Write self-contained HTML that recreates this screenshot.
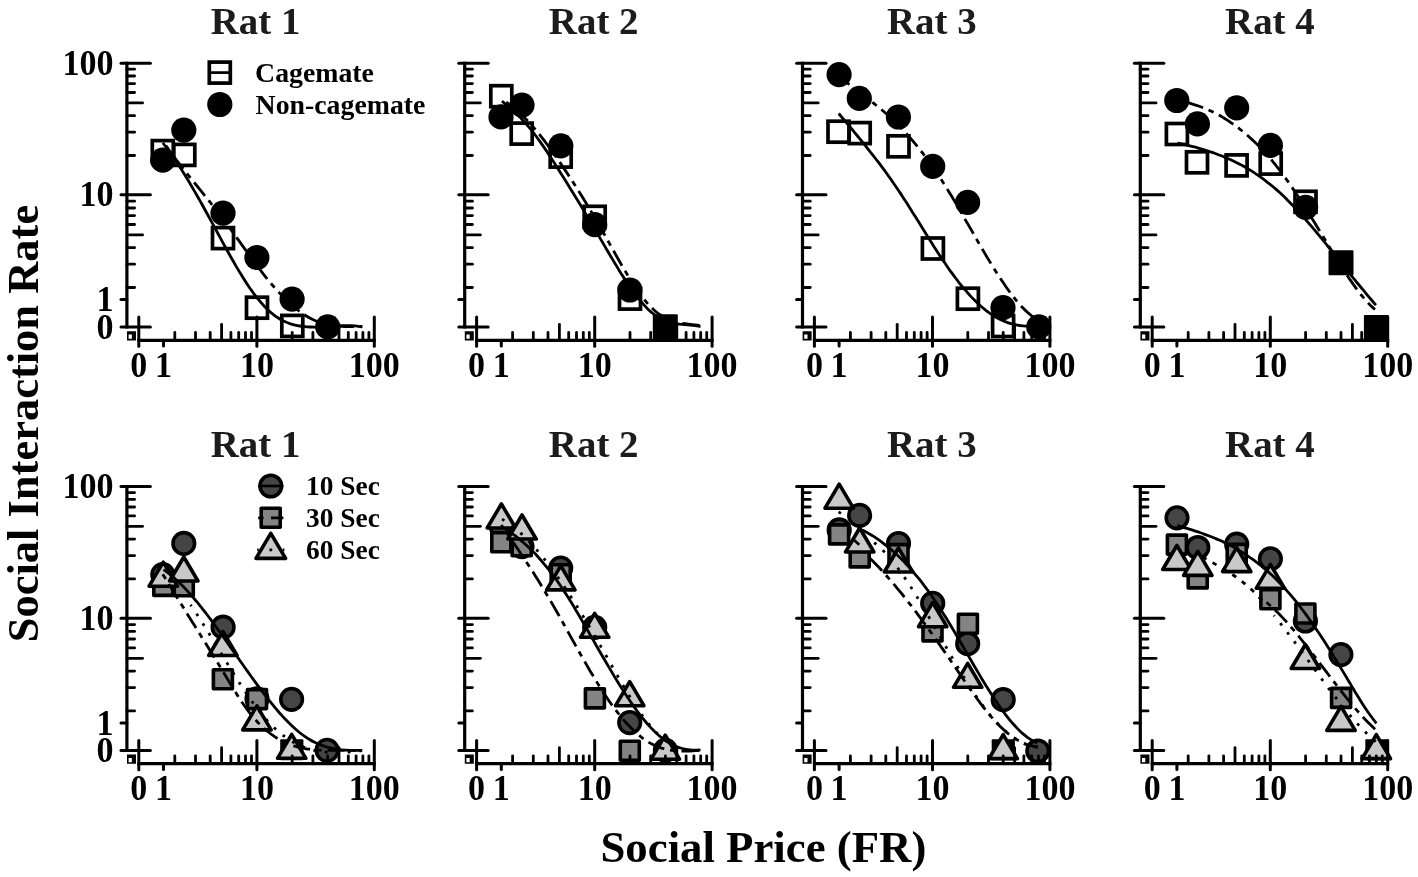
<!DOCTYPE html>
<html lang="en">
<head>
<meta charset="utf-8">
<title>Social Interaction Rate vs Social Price (FR)</title>
<style>
html,body{margin:0;padding:0;background:#fff;}
body{width:1418px;height:877px;overflow:hidden;}
svg{display:block;}
</style>
</head>
<body>
<svg width="1418" height="877" viewBox="0 0 1418 877">
<rect x="0" y="0" width="1418" height="877" fill="#fff"/>
<g>
<rect x="152.3" y="140.6" width="21.0" height="21.0" fill="none" stroke="#000" stroke-width="3.7"/>
<rect x="173.8" y="144.4" width="21.0" height="21.0" fill="none" stroke="#000" stroke-width="3.7"/>
<rect x="212.5" y="227.6" width="21.0" height="21.0" fill="none" stroke="#000" stroke-width="3.7"/>
<rect x="246.5" y="297.2" width="21.0" height="21.0" fill="none" stroke="#000" stroke-width="3.7"/>
<rect x="281.8" y="315.4" width="21.0" height="21.0" fill="none" stroke="#000" stroke-width="3.7"/>
<circle cx="162.8" cy="160.2" r="12.6" fill="#000"/>
<circle cx="183.8" cy="130.1" r="12.6" fill="#000"/>
<circle cx="223" cy="213.1" r="12.6" fill="#000"/>
<circle cx="256.9" cy="257.5" r="12.6" fill="#000"/>
<circle cx="292.1" cy="299.1" r="12.6" fill="#000"/>
<circle cx="327.7" cy="326.8" r="12.6" fill="#000"/>
<path d="M162.8,142.9 C163.7,144 166.3,147.4 168.1,149.8 C169.8,152.1 171.6,154.6 173.3,157.1 C175.1,159.7 176.8,162.3 178.6,165 C180.3,167.7 182.1,170.4 183.8,173.3 C185.6,176.1 187.3,179 189.1,181.9 C190.8,184.8 192.6,187.8 194.3,190.9 C196.1,193.9 197.8,197 199.6,200.1 C201.3,203.2 203.1,206.3 204.8,209.5 C206.6,212.7 208.3,215.9 210.1,219.1 C211.8,222.3 213.6,225.5 215.3,228.7 C217.1,232 218.8,235.2 220.6,238.4 C222.3,241.6 224.1,244.9 225.8,248 C227.6,251.2 229.3,254.4 231.1,257.5 C232.8,260.5 234.6,263.6 236.3,266.6 C238.1,269.6 239.8,272.5 241.6,275.3 C243.3,278.2 245.1,280.9 246.8,283.6 C248.6,286.2 250.3,288.8 252.1,291.2 C253.8,293.7 255.6,296 257.3,298.2 C259.1,300.4 260.8,302.4 262.6,304.3 C264.3,306.3 266.1,308 267.8,309.7 C269.6,311.4 271.3,312.9 273.1,314.3 C274.8,315.7 276.6,316.9 278.3,318 C280.1,319.2 281.8,320.2 283.6,321.1 C285.3,321.9 287.1,322.7 288.8,323.3 C290.6,324 292.3,324.5 294.1,324.9 C295.8,325.4 297.6,325.7 299.3,326 C301.1,326.3 302.8,326.5 304.6,326.7 C306.3,326.9 308.1,327 309.8,327 C311.6,327.1 313.3,327.1 315.1,327.1 C316.8,327 318.6,327 320.3,326.9 C322.1,326.8 323.8,326.7 325.6,326.6 C327.3,326.5 329.1,326.4 330.8,326.3 C332.6,326.2 334.3,326 336.1,325.9 C337.8,325.8 339.6,325.7 341.3,325.7 C343.1,325.6 344.8,325.6 346.6,325.6 C348.3,325.6 350.1,325.6 351.8,325.7 C353.6,325.8 355.3,325.9 357.1,326.1 C358.8,326.3 361.4,326.7 362.3,326.8" fill="none" stroke="#000" stroke-width="2.8"/>
<path d="M164.6,143.8 C165.5,145 168.1,148.7 169.8,151.1 C171.5,153.4 173.3,155.8 175,158.1 C176.7,160.4 178.5,162.6 180.2,164.9 C181.9,167.1 183.7,169.3 185.4,171.5 C187.1,173.7 188.9,175.9 190.6,178 C192.3,180.2 194.1,182.4 195.8,184.5 C197.6,186.7 199.3,188.8 201,190.9 C202.8,193.1 204.5,195.2 206.2,197.4 C208,199.6 209.7,201.7 211.4,203.9 C213.2,206.1 214.9,208.3 216.6,210.5 C218.4,212.8 220.1,215 221.8,217.3 C223.6,219.6 225.3,221.9 227,224.2 C228.8,226.6 230.5,229 232.2,231.3 C234,233.7 235.7,236.2 237.4,238.6 C239.2,241 240.9,243.4 242.6,245.9 C244.4,248.3 246.1,250.7 247.8,253.1 C249.6,255.5 251.3,257.9 253,260.3 C254.8,262.7 256.5,265 258.2,267.3 C260,269.6 261.7,271.9 263.4,274.1 C265.2,276.4 266.9,278.5 268.7,280.6 C270.4,282.8 272.1,284.8 273.9,286.8 C275.6,288.8 277.3,290.8 279.1,292.6 C280.8,294.5 282.5,296.3 284.3,298.1 C286,299.8 287.7,301.5 289.5,303 C291.2,304.6 292.9,306.2 294.7,307.6 C296.4,309 298.1,310.4 299.9,311.7 C301.6,312.9 303.3,314.1 305.1,315.2 C306.8,316.3 308.5,317.3 310.3,318.2 C312,319.1 313.7,319.9 315.5,320.7 C317.2,321.4 318.9,322 320.7,322.6 C322.4,323.2 324.1,323.6 325.9,324.1 C327.6,324.5 329.4,324.8 331.1,325.1 C332.8,325.4 334.6,325.7 336.3,325.8 C338,326 339.8,326.2 341.5,326.3 C343.2,326.4 345,326.5 346.7,326.5 C348.4,326.6 350.2,326.6 351.9,326.6 C353.6,326.6 355.4,326.6 357.1,326.5 C358.8,326.5 361.4,326.5 362.3,326.5" fill="none" stroke="#000" stroke-width="2.8" stroke-dasharray="17.2 5.9 5.6 5.9" stroke-dashoffset="20.6"/>
<g stroke="#000" fill="none" stroke-linecap="round">
<line x1="126.9" y1="155.5" x2="134.6" y2="155.5" stroke-width="2.8"/>
<line x1="126.9" y1="132.2" x2="134.6" y2="132.2" stroke-width="2.8"/>
<line x1="126.9" y1="115.7" x2="134.6" y2="115.7" stroke-width="2.8"/>
<line x1="126.9" y1="102.9" x2="142.6" y2="102.9" stroke-width="2.8"/>
<line x1="126.9" y1="92.5" x2="134.6" y2="92.5" stroke-width="2.8"/>
<line x1="126.9" y1="83.6" x2="134.6" y2="83.6" stroke-width="2.8"/>
<line x1="126.9" y1="76" x2="134.6" y2="76" stroke-width="2.8"/>
<line x1="126.9" y1="69.2" x2="134.6" y2="69.2" stroke-width="2.8"/>
<line x1="126.9" y1="287.5" x2="134.6" y2="287.5" stroke-width="2.8"/>
<line x1="126.9" y1="264.2" x2="134.6" y2="264.2" stroke-width="2.8"/>
<line x1="126.9" y1="247.7" x2="134.6" y2="247.7" stroke-width="2.8"/>
<line x1="126.9" y1="234.9" x2="142.6" y2="234.9" stroke-width="2.8"/>
<line x1="126.9" y1="224.5" x2="134.6" y2="224.5" stroke-width="2.8"/>
<line x1="126.9" y1="215.6" x2="134.6" y2="215.6" stroke-width="2.8"/>
<line x1="126.9" y1="208" x2="134.6" y2="208" stroke-width="2.8"/>
<line x1="126.9" y1="201.2" x2="134.6" y2="201.2" stroke-width="2.8"/>
<line x1="174.8" y1="340.3" x2="174.8" y2="332.4" stroke-width="2.8"/>
<line x1="195.5" y1="340.3" x2="195.5" y2="332.4" stroke-width="2.8"/>
<line x1="210.2" y1="340.3" x2="210.2" y2="332.4" stroke-width="2.8"/>
<line x1="221.6" y1="340.3" x2="221.6" y2="324.3" stroke-width="2.8"/>
<line x1="230.9" y1="340.3" x2="230.9" y2="332.4" stroke-width="2.8"/>
<line x1="238.7" y1="340.3" x2="238.7" y2="332.4" stroke-width="2.8"/>
<line x1="245.5" y1="340.3" x2="245.5" y2="332.4" stroke-width="2.8"/>
<line x1="251.5" y1="340.3" x2="251.5" y2="332.4" stroke-width="2.8"/>
<line x1="292.2" y1="340.3" x2="292.2" y2="332.4" stroke-width="2.8"/>
<line x1="312.9" y1="340.3" x2="312.9" y2="332.4" stroke-width="2.8"/>
<line x1="327.6" y1="340.3" x2="327.6" y2="332.4" stroke-width="2.8"/>
<line x1="339" y1="340.3" x2="339" y2="324.3" stroke-width="2.8"/>
<line x1="348.3" y1="340.3" x2="348.3" y2="332.4" stroke-width="2.8"/>
<line x1="356.1" y1="340.3" x2="356.1" y2="332.4" stroke-width="2.8"/>
<line x1="362.9" y1="340.3" x2="362.9" y2="332.4" stroke-width="2.8"/>
<line x1="368.9" y1="340.3" x2="368.9" y2="332.4" stroke-width="2.8"/>
</g>
<g stroke="#000" fill="none">
<line x1="126.9" y1="61.7" x2="126.9" y2="328.5" stroke-width="3.2"/>
<line x1="137.3" y1="340.3" x2="375.8" y2="340.3" stroke-width="3.2"/>
<line x1="121" y1="63.2" x2="150.4" y2="63.2" stroke-width="3.0" stroke-linecap="round"/>
<line x1="121" y1="194.8" x2="150.4" y2="194.8" stroke-width="3.0" stroke-linecap="round"/>
<line x1="121" y1="327" x2="150.4" y2="327" stroke-width="3.0" stroke-linecap="round"/>
<line x1="121" y1="299.5" x2="126.9" y2="299.5" stroke-width="3.0" stroke-linecap="round"/>
<line x1="138.8" y1="317" x2="138.8" y2="346.3" stroke-width="3.0" stroke-linecap="round"/>
<line x1="256.9" y1="317" x2="256.9" y2="346.3" stroke-width="3.0" stroke-linecap="round"/>
<line x1="374.3" y1="317" x2="374.3" y2="346.3" stroke-width="3.0" stroke-linecap="round"/>
<line x1="163.5" y1="340.3" x2="163.5" y2="346" stroke-width="3.0" stroke-linecap="round"/>
<path d="M127,331.2 h9 v9.2 h-9 Z M128.6,334.6 v4.2 h3.3 v-4.2 Z" fill="#000" fill-rule="evenodd" stroke="none"/>
</g>
</g>
<g>
<circle cx="162.8" cy="574.6" r="10.8" fill="#454545" stroke="#000" stroke-width="3.6"/>
<circle cx="183.8" cy="543.4" r="10.8" fill="#454545" stroke="#000" stroke-width="3.6"/>
<circle cx="223.1" cy="627.2" r="10.8" fill="#454545" stroke="#000" stroke-width="3.6"/>
<circle cx="257" cy="698.8" r="10.8" fill="#454545" stroke="#000" stroke-width="3.6"/>
<circle cx="291.6" cy="699.3" r="10.8" fill="#454545" stroke="#000" stroke-width="3.6"/>
<circle cx="327.1" cy="750.3" r="10.8" fill="#454545" stroke="#000" stroke-width="3.6"/>
<rect x="153.8" y="576.4" width="19.0" height="19.0" fill="#848484" stroke="#000" stroke-width="3.6" stroke-linejoin="round"/>
<rect x="174.3" y="576.7" width="19.0" height="19.0" fill="#848484" stroke="#000" stroke-width="3.6" stroke-linejoin="round"/>
<rect x="213.4" y="669.7" width="19.0" height="19.0" fill="#848484" stroke="#000" stroke-width="3.6" stroke-linejoin="round"/>
<rect x="247.5" y="689.6" width="19.0" height="19.0" fill="#848484" stroke="#000" stroke-width="3.6" stroke-linejoin="round"/>
<rect x="280.2" y="739.3" width="23.2" height="21.0" fill="#000" rx="1"/>
<path d="M163.3,562.2 L177.5,586.2 L149.1,586.2 Z" fill="#c9c9c9" stroke="#000" stroke-width="3.6" stroke-linejoin="round"/>
<path d="M183.8,557 L198,581 L169.6,581 Z" fill="#c9c9c9" stroke="#000" stroke-width="3.6" stroke-linejoin="round"/>
<path d="M222.9,631.5 L237.1,655.5 L208.7,655.5 Z" fill="#c9c9c9" stroke="#000" stroke-width="3.6" stroke-linejoin="round"/>
<path d="M256.9,705.9 L271.1,729.9 L242.7,729.9 Z" fill="#c9c9c9" stroke="#000" stroke-width="3.6" stroke-linejoin="round"/>
<path d="M291.7,734.3 L305.9,758.3 L277.5,758.3 Z" fill="#c9c9c9" stroke="#000" stroke-width="3.6" stroke-linejoin="round"/>
<path d="M163.5,569.6 C164.4,570.2 167,572 168.7,573.4 C170.5,574.7 172.2,576.2 174,577.7 C175.7,579.2 177.5,580.8 179.2,582.5 C180.9,584.2 182.7,585.9 184.4,587.8 C186.2,589.6 187.9,591.5 189.7,593.4 C191.4,595.4 193.1,597.4 194.9,599.5 C196.6,601.6 198.4,603.7 200.1,605.9 C201.9,608 203.6,610.3 205.4,612.5 C207.1,614.8 208.8,617.1 210.6,619.4 C212.3,621.7 214.1,624.1 215.8,626.5 C217.6,628.9 219.3,631.3 221,633.8 C222.8,636.2 224.5,638.7 226.3,641.1 C228,643.6 229.8,646.1 231.5,648.6 C233.3,651.1 235,653.6 236.7,656 C238.5,658.5 240.2,661 242,663.5 C243.7,666 245.5,668.4 247.2,670.9 C248.9,673.3 250.7,675.8 252.4,678.2 C254.2,680.6 255.9,683 257.7,685.4 C259.4,687.7 261.2,690.1 262.9,692.3 C264.6,694.6 266.4,696.9 268.1,699.1 C269.9,701.3 271.6,703.5 273.4,705.6 C275.1,707.7 276.9,709.8 278.6,711.8 C280.3,713.8 282.1,715.7 283.8,717.6 C285.6,719.5 287.3,721.3 289.1,723 C290.8,724.7 292.5,726.4 294.3,728 C296,729.6 297.8,731.1 299.5,732.5 C301.3,733.9 303,735.2 304.8,736.4 C306.5,737.7 308.2,738.8 310,739.8 C311.7,740.9 313.5,741.8 315.2,742.6 C317,743.5 318.7,744.3 320.4,744.9 C322.2,745.6 323.9,746.2 325.7,746.7 C327.4,747.3 329.2,747.7 330.9,748.1 C332.7,748.5 334.4,748.9 336.1,749.1 C337.9,749.4 339.6,749.6 341.4,749.8 C343.1,750 344.9,750.1 346.6,750.2 C348.3,750.3 350.1,750.4 351.8,750.4 C353.6,750.4 355.3,750.4 357.1,750.4 C358.8,750.4 361.4,750.3 362.3,750.3" fill="none" stroke="#000" stroke-width="2.8"/>
<path d="M162.8,574.2 C163.7,575.7 166.3,580 168,582.8 C169.8,585.7 171.5,588.5 173.3,591.4 C175,594.2 176.8,597 178.5,599.9 C180.3,602.7 182,605.5 183.8,608.3 C185.5,611.1 187.3,613.9 189,616.7 C190.8,619.5 192.5,622.3 194.3,625.1 C196,627.9 197.7,630.7 199.5,633.5 C201.2,636.3 203,639.1 204.7,641.9 C206.5,644.7 208.2,647.5 210,650.4 C211.7,653.2 213.5,656 215.2,658.8 C217,661.7 218.7,664.5 220.5,667.4 C222.2,670.3 224,673.1 225.7,676 C227.5,678.9 229.2,681.9 230.9,684.7 C232.7,687.6 234.4,690.5 236.2,693.3 C237.9,696.1 239.7,698.8 241.4,701.4 C243.2,704 244.9,706.6 246.7,708.9 C248.4,711.3 250.2,713.6 251.9,715.7 C253.7,717.8 255.4,719.8 257.2,721.7 C258.9,723.5 260.7,725.3 262.4,726.9 C264.1,728.6 265.9,730.1 267.6,731.5 C269.4,732.9 271.1,734.2 272.9,735.4 C274.6,736.6 276.4,737.8 278.1,738.8 C279.9,739.8 281.6,740.7 283.4,741.6 C285.1,742.4 286.9,743.2 288.6,743.9 C290.4,744.6 292.1,745.2 293.9,745.8 C295.6,746.3 297.3,746.8 299.1,747.3 C300.8,747.7 302.6,748 304.3,748.4 C306.1,748.7 307.8,749 309.6,749.2 C311.3,749.4 313.1,749.6 314.8,749.7 C316.6,749.9 318.3,750 320.1,750.1 C321.8,750.2 323.6,750.2 325.3,750.3 C327.1,750.3 328.8,750.3 330.5,750.3 C332.3,750.3 334,750.3 335.8,750.3 C337.5,750.3 339.3,750.3 341,750.3 C342.8,750.2 344.5,750.2 346.3,750.2 C348,750.2 349.8,750.3 351.5,750.3 C353.3,750.3 355,750.4 356.8,750.5 C358.5,750.6 361.1,750.7 362,750.8" fill="none" stroke="#000" stroke-width="2.8" stroke-dasharray="17.2 5.9 5.6 5.9" stroke-dashoffset="23.1"/>
<path d="M190.6,604.9 C191.5,606.2 194.1,610 195.8,612.6 C197.5,615.3 199.3,617.9 201,620.7 C202.7,623.4 204.5,626.2 206.2,628.9 C207.9,631.7 209.6,634.5 211.4,637.4 C213.1,640.2 214.8,643 216.6,645.9 C218.3,648.7 220,651.6 221.8,654.4 C223.5,657.3 225.2,660.1 227,662.9 C228.7,665.7 230.4,668.6 232.2,671.3 C233.9,674.1 235.6,676.9 237.3,679.6 C239.1,682.3 240.8,685 242.5,687.6 C244.3,690.2 246,692.8 247.7,695.3 C249.5,697.8 251.2,700.3 252.9,702.7 C254.7,705.1 256.4,707.4 258.1,709.6 C259.9,711.9 261.6,714 263.3,716.1 C265,718.2 266.8,720.1 268.5,722 C270.2,723.9 272,725.7 273.7,727.3 C275.4,729 277.2,730.5 278.9,732 C280.6,733.5 282.4,734.9 284.1,736.1 C285.8,737.4 287.6,738.6 289.3,739.7 C291,740.8 292.7,741.8 294.5,742.8 C296.2,743.7 297.9,744.6 299.7,745.4 C301.4,746.2 303.1,746.9 304.9,747.5 C306.6,748.1 308.3,748.7 310.1,749.2 C311.8,749.7 313.5,750.2 315.3,750.6 C317,750.9 318.7,751.3 320.4,751.5 C322.2,751.8 323.9,752 325.6,752.2 C327.4,752.4 329.1,752.5 330.8,752.6 C332.6,752.7 334.3,752.7 336,752.7 C337.8,752.7 339.5,752.7 341.2,752.6 C343,752.5 344.7,752.4 346.4,752.3 C348.1,752.2 349.9,752 351.6,751.8 C353.3,751.7 355.1,751.5 356.8,751.3 C358.5,751 361.1,750.7 362,750.6" fill="none" stroke="#000" stroke-width="2.8" stroke-dasharray="2.8 8.7" stroke-dashoffset="0.9"/>
<g stroke="#000" fill="none" stroke-linecap="round">
<line x1="126.9" y1="578.9" x2="134.6" y2="578.9" stroke-width="2.8"/>
<line x1="126.9" y1="555.6" x2="134.6" y2="555.6" stroke-width="2.8"/>
<line x1="126.9" y1="539.1" x2="134.6" y2="539.1" stroke-width="2.8"/>
<line x1="126.9" y1="526.3" x2="142.6" y2="526.3" stroke-width="2.8"/>
<line x1="126.9" y1="515.9" x2="134.6" y2="515.9" stroke-width="2.8"/>
<line x1="126.9" y1="507" x2="134.6" y2="507" stroke-width="2.8"/>
<line x1="126.9" y1="499.4" x2="134.6" y2="499.4" stroke-width="2.8"/>
<line x1="126.9" y1="492.6" x2="134.6" y2="492.6" stroke-width="2.8"/>
<line x1="126.9" y1="710.9" x2="134.6" y2="710.9" stroke-width="2.8"/>
<line x1="126.9" y1="687.6" x2="134.6" y2="687.6" stroke-width="2.8"/>
<line x1="126.9" y1="671.1" x2="134.6" y2="671.1" stroke-width="2.8"/>
<line x1="126.9" y1="658.3" x2="142.6" y2="658.3" stroke-width="2.8"/>
<line x1="126.9" y1="647.9" x2="134.6" y2="647.9" stroke-width="2.8"/>
<line x1="126.9" y1="639" x2="134.6" y2="639" stroke-width="2.8"/>
<line x1="126.9" y1="631.4" x2="134.6" y2="631.4" stroke-width="2.8"/>
<line x1="126.9" y1="624.6" x2="134.6" y2="624.6" stroke-width="2.8"/>
<line x1="174.8" y1="763.7" x2="174.8" y2="755.8" stroke-width="2.8"/>
<line x1="195.5" y1="763.7" x2="195.5" y2="755.8" stroke-width="2.8"/>
<line x1="210.2" y1="763.7" x2="210.2" y2="755.8" stroke-width="2.8"/>
<line x1="221.6" y1="763.7" x2="221.6" y2="747.7" stroke-width="2.8"/>
<line x1="230.9" y1="763.7" x2="230.9" y2="755.8" stroke-width="2.8"/>
<line x1="238.7" y1="763.7" x2="238.7" y2="755.8" stroke-width="2.8"/>
<line x1="245.5" y1="763.7" x2="245.5" y2="755.8" stroke-width="2.8"/>
<line x1="251.5" y1="763.7" x2="251.5" y2="755.8" stroke-width="2.8"/>
<line x1="292.2" y1="763.7" x2="292.2" y2="755.8" stroke-width="2.8"/>
<line x1="312.9" y1="763.7" x2="312.9" y2="755.8" stroke-width="2.8"/>
<line x1="327.6" y1="763.7" x2="327.6" y2="755.8" stroke-width="2.8"/>
<line x1="339" y1="763.7" x2="339" y2="747.7" stroke-width="2.8"/>
<line x1="348.3" y1="763.7" x2="348.3" y2="755.8" stroke-width="2.8"/>
<line x1="356.1" y1="763.7" x2="356.1" y2="755.8" stroke-width="2.8"/>
<line x1="362.9" y1="763.7" x2="362.9" y2="755.8" stroke-width="2.8"/>
<line x1="368.9" y1="763.7" x2="368.9" y2="755.8" stroke-width="2.8"/>
</g>
<g stroke="#000" fill="none">
<line x1="126.9" y1="485.1" x2="126.9" y2="751.9" stroke-width="3.2"/>
<line x1="137.3" y1="763.7" x2="375.8" y2="763.7" stroke-width="3.2"/>
<line x1="121" y1="486.6" x2="150.4" y2="486.6" stroke-width="3.0" stroke-linecap="round"/>
<line x1="121" y1="618.2" x2="150.4" y2="618.2" stroke-width="3.0" stroke-linecap="round"/>
<line x1="121" y1="750.4" x2="150.4" y2="750.4" stroke-width="3.0" stroke-linecap="round"/>
<line x1="121" y1="722.9" x2="126.9" y2="722.9" stroke-width="3.0" stroke-linecap="round"/>
<line x1="138.8" y1="740.4" x2="138.8" y2="769.7" stroke-width="3.0" stroke-linecap="round"/>
<line x1="256.9" y1="740.4" x2="256.9" y2="769.7" stroke-width="3.0" stroke-linecap="round"/>
<line x1="374.3" y1="740.4" x2="374.3" y2="769.7" stroke-width="3.0" stroke-linecap="round"/>
<line x1="163.5" y1="763.7" x2="163.5" y2="769.4" stroke-width="3.0" stroke-linecap="round"/>
<path d="M127,754.6 h9 v9.2 h-9 Z M128.6,758 v4.2 h3.3 v-4.2 Z" fill="#000" fill-rule="evenodd" stroke="none"/>
</g>
</g>
<g>
<rect x="490.8" y="85.7" width="21.0" height="21.0" fill="none" stroke="#000" stroke-width="3.7"/>
<rect x="511.2" y="123.1" width="21.0" height="21.0" fill="none" stroke="#000" stroke-width="3.7"/>
<rect x="550.2" y="146.1" width="21.0" height="21.0" fill="none" stroke="#000" stroke-width="3.7"/>
<rect x="584.2" y="206.3" width="21.0" height="21.0" fill="none" stroke="#000" stroke-width="3.7"/>
<rect x="619.5" y="288.1" width="21.0" height="21.0" fill="none" stroke="#000" stroke-width="3.7"/>
<circle cx="501" cy="116.9" r="12.6" fill="#000"/>
<circle cx="522" cy="105.1" r="12.6" fill="#000"/>
<circle cx="560.8" cy="145.8" r="12.6" fill="#000"/>
<circle cx="594.7" cy="224.7" r="12.6" fill="#000"/>
<circle cx="629.9" cy="290" r="12.6" fill="#000"/>
<rect x="652.8" y="314.3" width="25.0" height="25.0" fill="#000" rx="1"/>
<path d="M501.9,101.1 C502.8,101.8 505.4,103.9 507.1,105.3 C508.9,106.8 510.6,108.3 512.4,109.9 C514.1,111.5 515.8,113.1 517.6,114.8 C519.3,116.5 521.1,118.3 522.8,120.2 C524.5,122.1 526.3,124 528,126.1 C529.8,128.1 531.5,130.2 533.3,132.5 C535,134.7 536.7,137 538.5,139.5 C540.2,141.9 542,144.4 543.7,146.9 C545.5,149.5 547.2,152.1 548.9,154.8 C550.7,157.4 552.4,160.1 554.2,162.8 C555.9,165.6 557.6,168.3 559.4,171 C561.1,173.8 562.9,176.6 564.6,179.3 C566.4,182.1 568.1,184.9 569.8,187.7 C571.6,190.5 573.3,193.4 575.1,196.2 C576.8,199.1 578.6,201.9 580.3,204.8 C582,207.7 583.8,210.6 585.5,213.5 C587.3,216.4 589,219.3 590.7,222.3 C592.5,225.2 594.2,228.2 596,231.1 C597.7,234.1 599.5,237.1 601.2,240.1 C602.9,243 604.7,246 606.4,249 C608.2,252 609.9,255 611.7,257.9 C613.4,260.9 615.1,263.8 616.9,266.6 C618.6,269.5 620.4,272.3 622.1,275.1 C623.8,277.8 625.6,280.5 627.3,283.1 C629.1,285.7 630.8,288.3 632.6,290.7 C634.3,293.1 636,295.5 637.8,297.7 C639.5,299.9 641.3,302 643,303.9 C644.8,305.9 646.5,307.7 648.2,309.4 C650,311.1 651.7,312.6 653.5,313.9 C655.2,315.3 656.9,316.5 658.7,317.5 C660.4,318.5 662.2,319.4 663.9,320.1 C665.7,320.9 667.4,321.4 669.1,322 C670.9,322.5 672.6,322.9 674.4,323.2 C676.1,323.6 677.9,323.8 679.6,324.1 C681.3,324.3 683.1,324.5 684.8,324.7 C686.6,324.8 688.3,325 690,325.1 C691.8,325.3 693.5,325.5 695.3,325.7 C697,325.9 699.6,326.4 700.5,326.5" fill="none" stroke="#000" stroke-width="2.8"/>
<path d="M503,100 C503.9,100.6 506.5,102.3 508.2,103.6 C509.9,104.9 511.7,106.2 513.4,107.6 C515.1,109 516.9,110.5 518.6,112.1 C520.3,113.6 522.1,115.3 523.8,117 C525.5,118.7 527.3,120.5 529,122.3 C530.7,124.2 532.5,126.1 534.2,128.1 C535.9,130.1 537.6,132.2 539.4,134.4 C541.1,136.5 542.8,138.8 544.6,141 C546.3,143.3 548,145.7 549.8,148.1 C551.5,150.5 553.2,152.9 555,155.4 C556.7,157.9 558.4,160.4 560.2,162.9 C561.9,165.4 563.6,168 565.4,170.6 C567.1,173.2 568.8,175.8 570.6,178.4 C572.3,181.1 574,183.8 575.8,186.5 C577.5,189.2 579.2,192 581,194.7 C582.7,197.5 584.4,200.3 586.2,203.2 C587.9,206.1 589.6,208.9 591.4,211.9 C593.1,214.8 594.8,217.8 596.6,220.8 C598.3,223.8 600,226.8 601.8,229.8 C603.5,232.9 605.2,236 606.9,239 C608.7,242.1 610.4,245.2 612.1,248.3 C613.9,251.4 615.6,254.5 617.3,257.5 C619.1,260.6 620.8,263.6 622.5,266.6 C624.3,269.5 626,272.5 627.7,275.3 C629.5,278.1 631.2,280.9 632.9,283.6 C634.7,286.3 636.4,288.9 638.1,291.3 C639.9,293.8 641.6,296.1 643.3,298.3 C645.1,300.5 646.8,302.6 648.5,304.5 C650.3,306.4 652,308.1 653.7,309.7 C655.5,311.3 657.2,312.7 658.9,314 C660.7,315.2 662.4,316.3 664.1,317.2 C665.9,318.2 667.6,319 669.3,319.7 C671,320.4 672.8,321 674.5,321.5 C676.2,322 678,322.4 679.7,322.8 C681.4,323.2 683.2,323.4 684.9,323.7 C686.6,324 688.4,324.2 690.1,324.4 C691.8,324.6 693.6,324.7 695.3,324.9 C697,325.1 699.6,325.4 700.5,325.5" fill="none" stroke="#000" stroke-width="2.8" stroke-dasharray="17.2 5.9 5.6 5.9" stroke-dashoffset="19.2"/>
<g stroke="#000" fill="none" stroke-linecap="round">
<line x1="464.7" y1="155.5" x2="472.4" y2="155.5" stroke-width="2.8"/>
<line x1="464.7" y1="132.2" x2="472.4" y2="132.2" stroke-width="2.8"/>
<line x1="464.7" y1="115.7" x2="472.4" y2="115.7" stroke-width="2.8"/>
<line x1="464.7" y1="102.9" x2="480.4" y2="102.9" stroke-width="2.8"/>
<line x1="464.7" y1="92.5" x2="472.4" y2="92.5" stroke-width="2.8"/>
<line x1="464.7" y1="83.6" x2="472.4" y2="83.6" stroke-width="2.8"/>
<line x1="464.7" y1="76" x2="472.4" y2="76" stroke-width="2.8"/>
<line x1="464.7" y1="69.2" x2="472.4" y2="69.2" stroke-width="2.8"/>
<line x1="464.7" y1="287.5" x2="472.4" y2="287.5" stroke-width="2.8"/>
<line x1="464.7" y1="264.2" x2="472.4" y2="264.2" stroke-width="2.8"/>
<line x1="464.7" y1="247.7" x2="472.4" y2="247.7" stroke-width="2.8"/>
<line x1="464.7" y1="234.9" x2="480.4" y2="234.9" stroke-width="2.8"/>
<line x1="464.7" y1="224.5" x2="472.4" y2="224.5" stroke-width="2.8"/>
<line x1="464.7" y1="215.6" x2="472.4" y2="215.6" stroke-width="2.8"/>
<line x1="464.7" y1="208" x2="472.4" y2="208" stroke-width="2.8"/>
<line x1="464.7" y1="201.2" x2="472.4" y2="201.2" stroke-width="2.8"/>
<line x1="512.6" y1="340.3" x2="512.6" y2="332.4" stroke-width="2.8"/>
<line x1="533.3" y1="340.3" x2="533.3" y2="332.4" stroke-width="2.8"/>
<line x1="548" y1="340.3" x2="548" y2="332.4" stroke-width="2.8"/>
<line x1="559.4" y1="340.3" x2="559.4" y2="324.3" stroke-width="2.8"/>
<line x1="568.7" y1="340.3" x2="568.7" y2="332.4" stroke-width="2.8"/>
<line x1="576.5" y1="340.3" x2="576.5" y2="332.4" stroke-width="2.8"/>
<line x1="583.3" y1="340.3" x2="583.3" y2="332.4" stroke-width="2.8"/>
<line x1="589.3" y1="340.3" x2="589.3" y2="332.4" stroke-width="2.8"/>
<line x1="630" y1="340.3" x2="630" y2="332.4" stroke-width="2.8"/>
<line x1="650.7" y1="340.3" x2="650.7" y2="332.4" stroke-width="2.8"/>
<line x1="665.4" y1="340.3" x2="665.4" y2="332.4" stroke-width="2.8"/>
<line x1="676.8" y1="340.3" x2="676.8" y2="324.3" stroke-width="2.8"/>
<line x1="686.1" y1="340.3" x2="686.1" y2="332.4" stroke-width="2.8"/>
<line x1="693.9" y1="340.3" x2="693.9" y2="332.4" stroke-width="2.8"/>
<line x1="700.7" y1="340.3" x2="700.7" y2="332.4" stroke-width="2.8"/>
<line x1="706.7" y1="340.3" x2="706.7" y2="332.4" stroke-width="2.8"/>
</g>
<g stroke="#000" fill="none">
<line x1="464.7" y1="61.7" x2="464.7" y2="328.5" stroke-width="3.2"/>
<line x1="475.1" y1="340.3" x2="713.6" y2="340.3" stroke-width="3.2"/>
<line x1="458.8" y1="63.2" x2="488.2" y2="63.2" stroke-width="3.0" stroke-linecap="round"/>
<line x1="458.8" y1="194.8" x2="488.2" y2="194.8" stroke-width="3.0" stroke-linecap="round"/>
<line x1="458.8" y1="327" x2="488.2" y2="327" stroke-width="3.0" stroke-linecap="round"/>
<line x1="458.8" y1="299.5" x2="464.7" y2="299.5" stroke-width="3.0" stroke-linecap="round"/>
<line x1="476.6" y1="317" x2="476.6" y2="346.3" stroke-width="3.0" stroke-linecap="round"/>
<line x1="594.7" y1="317" x2="594.7" y2="346.3" stroke-width="3.0" stroke-linecap="round"/>
<line x1="712.1" y1="317" x2="712.1" y2="346.3" stroke-width="3.0" stroke-linecap="round"/>
<line x1="501.3" y1="340.3" x2="501.3" y2="346" stroke-width="3.0" stroke-linecap="round"/>
<path d="M464.8,331.2 h9 v9.2 h-9 Z M466.4,334.6 v4.2 h3.3 v-4.2 Z" fill="#000" fill-rule="evenodd" stroke="none"/>
</g>
</g>
<g>
<circle cx="501.3" cy="526.5" r="10.8" fill="#454545" stroke="#000" stroke-width="3.6"/>
<circle cx="522" cy="546.6" r="10.8" fill="#454545" stroke="#000" stroke-width="3.6"/>
<circle cx="560.7" cy="568.1" r="10.8" fill="#454545" stroke="#000" stroke-width="3.6"/>
<circle cx="594.7" cy="627.4" r="10.8" fill="#454545" stroke="#000" stroke-width="3.6"/>
<circle cx="629.7" cy="722.6" r="10.8" fill="#454545" stroke="#000" stroke-width="3.6"/>
<circle cx="665.4" cy="750.3" r="10.8" fill="#454545" stroke="#000" stroke-width="3.6"/>
<rect x="491.8" y="532.7" width="19.0" height="19.0" fill="#848484" stroke="#000" stroke-width="3.6" stroke-linejoin="round"/>
<rect x="512.2" y="536.7" width="19.0" height="19.0" fill="#848484" stroke="#000" stroke-width="3.6" stroke-linejoin="round"/>
<rect x="551.2" y="564.8" width="19.0" height="19.0" fill="#848484" stroke="#000" stroke-width="3.6" stroke-linejoin="round"/>
<rect x="585.4" y="688.9" width="19.0" height="19.0" fill="#848484" stroke="#000" stroke-width="3.6" stroke-linejoin="round"/>
<rect x="620.3" y="741.2" width="19.0" height="19.0" fill="#848484" stroke="#000" stroke-width="3.6" stroke-linejoin="round"/>
<path d="M501.4,504 L515.6,528 L487.2,528 Z" fill="#c9c9c9" stroke="#000" stroke-width="3.6" stroke-linejoin="round"/>
<path d="M522,515 L536.2,539 L507.8,539 Z" fill="#c9c9c9" stroke="#000" stroke-width="3.6" stroke-linejoin="round"/>
<path d="M560.8,565.9 L575,589.9 L546.6,589.9 Z" fill="#c9c9c9" stroke="#000" stroke-width="3.6" stroke-linejoin="round"/>
<path d="M594.7,613.3 L608.9,637.3 L580.5,637.3 Z" fill="#c9c9c9" stroke="#000" stroke-width="3.6" stroke-linejoin="round"/>
<path d="M629.7,681.7 L643.9,705.7 L615.5,705.7 Z" fill="#c9c9c9" stroke="#000" stroke-width="3.6" stroke-linejoin="round"/>
<path d="M665.3,735.2 L679.5,759.2 L651.1,759.2 Z" fill="#c9c9c9" stroke="#000" stroke-width="3.6" stroke-linejoin="round"/>
<path d="M502.8,527.4 C503.7,528 506.3,529.5 508,530.7 C509.7,531.8 511.5,533 513.2,534.3 C514.9,535.6 516.7,536.9 518.4,538.3 C520.1,539.7 521.9,541.2 523.6,542.7 C525.3,544.2 527.1,545.8 528.8,547.5 C530.5,549.1 532.3,550.8 534,552.6 C535.8,554.4 537.5,556.3 539.2,558.2 C541,560.2 542.7,562.2 544.4,564.3 C546.2,566.4 547.9,568.5 549.6,570.7 C551.4,573 553.1,575.3 554.8,577.7 C556.6,580 558.3,582.5 560,585 C561.8,587.6 563.5,590.2 565.2,592.9 C567,595.5 568.7,598.3 570.4,601.1 C572.2,603.9 573.9,606.8 575.6,609.7 C577.4,612.6 579.1,615.5 580.8,618.5 C582.6,621.5 584.3,624.5 586,627.5 C587.8,630.5 589.5,633.6 591.2,636.6 C593,639.6 594.7,642.7 596.4,645.7 C598.2,648.8 599.9,651.8 601.6,654.8 C603.4,657.8 605.1,660.8 606.9,663.8 C608.6,666.7 610.3,669.7 612.1,672.6 C613.8,675.5 615.5,678.4 617.3,681.2 C619,684 620.7,686.8 622.5,689.5 C624.2,692.2 625.9,694.9 627.7,697.5 C629.4,700.1 631.1,702.6 632.9,705.1 C634.6,707.6 636.3,710 638.1,712.3 C639.8,714.6 641.5,716.8 643.3,719 C645,721.1 646.7,723.2 648.5,725.1 C650.2,727 651.9,728.9 653.7,730.6 C655.4,732.4 657.1,734 658.9,735.5 C660.6,737 662.3,738.4 664.1,739.7 C665.8,740.9 667.5,742.1 669.3,743.1 C671,744.1 672.8,745 674.5,745.8 C676.2,746.6 678,747.3 679.7,747.8 C681.4,748.4 683.2,748.9 684.9,749.2 C686.6,749.6 688.4,749.9 690.1,750 C691.8,750.2 693.6,750.3 695.3,750.2 C697,750.2 699.6,750 700.5,749.9" fill="none" stroke="#000" stroke-width="2.8"/>
<path d="M501.3,525 C502.2,526.3 504.8,530 506.5,532.5 C508.3,535.1 510,537.6 511.8,540.1 C513.5,542.7 515.3,545.3 517,547.9 C518.8,550.4 520.5,553.1 522.3,555.7 C524,558.3 525.8,561 527.5,563.7 C529.3,566.3 531,569.1 532.8,571.8 C534.5,574.5 536.2,577.3 538,580.1 C539.7,582.9 541.5,585.8 543.2,588.7 C545,591.5 546.7,594.5 548.5,597.4 C550.2,600.4 552,603.4 553.7,606.4 C555.5,609.5 557.2,612.5 559,615.6 C560.7,618.7 562.5,621.9 564.2,625 C566,628.1 567.7,631.3 569.4,634.4 C571.2,637.6 572.9,640.7 574.7,643.8 C576.4,647 578.2,650.1 579.9,653.2 C581.7,656.3 583.4,659.4 585.2,662.4 C586.9,665.5 588.7,668.5 590.4,671.5 C592.2,674.4 593.9,677.3 595.7,680.2 C597.4,683.1 599.2,685.9 600.9,688.6 C602.6,691.4 604.4,694 606.1,696.6 C607.9,699.2 609.6,701.7 611.4,704.2 C613.1,706.6 614.9,709 616.6,711.2 C618.4,713.5 620.1,715.7 621.9,717.8 C623.6,719.9 625.4,721.9 627.1,723.8 C628.9,725.7 630.6,727.5 632.4,729.2 C634.1,730.9 635.8,732.5 637.6,734.1 C639.3,735.6 641.1,737 642.8,738.3 C644.6,739.6 646.3,740.8 648.1,741.9 C649.8,743 651.6,743.9 653.3,744.8 C655.1,745.7 656.8,746.4 658.6,747.1 C660.3,747.7 662.1,748.3 663.8,748.7 C665.6,749.2 667.3,749.6 669,749.9 C670.8,750.2 672.5,750.4 674.3,750.6 C676,750.8 677.8,750.9 679.5,751 C681.3,751.1 683,751.1 684.8,751.1 C686.5,751.1 688.3,751 690,751 C691.8,750.9 693.5,750.8 695.3,750.7 C697,750.6 699.6,750.5 700.5,750.5" fill="none" stroke="#000" stroke-width="2.8" stroke-dasharray="17.2 5.9 5.6 5.9" stroke-dashoffset="13.0"/>
<path d="M502,519.2 C502.9,519.8 505.5,521.3 507.2,522.5 C509,523.7 510.7,524.9 512.4,526.3 C514.2,527.6 515.9,529.1 517.7,530.6 C519.4,532.1 521.2,533.6 522.9,535.3 C524.6,536.9 526.4,538.7 528.1,540.5 C529.9,542.3 531.6,544.1 533.3,546.1 C535.1,548 536.8,550 538.6,552 C540.3,554.1 542,556.2 543.8,558.4 C545.5,560.6 547.3,562.8 549,565.1 C550.8,567.4 552.5,569.8 554.2,572.2 C556,574.6 557.7,577.1 559.5,579.6 C561.2,582.1 562.9,584.6 564.7,587.2 C566.4,589.8 568.2,592.5 569.9,595.2 C571.6,597.9 573.4,600.6 575.1,603.4 C576.9,606.1 578.6,608.9 580.4,611.8 C582.1,614.6 583.8,617.5 585.6,620.4 C587.3,623.3 589.1,626.2 590.8,629.1 C592.5,632.1 594.3,635.1 596,638.1 C597.8,641.1 599.5,644.1 601.2,647.2 C603,650.2 604.7,653.3 606.5,656.4 C608.2,659.4 610,662.5 611.7,665.6 C613.4,668.7 615.2,671.7 616.9,674.8 C618.7,677.8 620.4,680.8 622.1,683.8 C623.9,686.8 625.6,689.7 627.4,692.6 C629.1,695.5 630.9,698.3 632.6,701 C634.3,703.8 636.1,706.5 637.8,709.1 C639.6,711.6 641.3,714.2 643,716.5 C644.8,718.9 646.5,721.2 648.3,723.4 C650,725.6 651.7,727.6 653.5,729.5 C655.2,731.4 657,733.2 658.7,734.9 C660.5,736.5 662.2,738 663.9,739.4 C665.7,740.8 667.4,742 669.2,743.1 C670.9,744.2 672.6,745.2 674.4,746.1 C676.1,746.9 677.9,747.7 679.6,748.3 C681.3,748.9 683.1,749.4 684.8,749.8 C686.6,750.1 688.3,750.4 690.1,750.5 C691.8,750.6 693.5,750.7 695.3,750.6 C697,750.5 699.6,750.1 700.5,750" fill="none" stroke="#000" stroke-width="2.8" stroke-dasharray="2.8 8.7"/>
<g stroke="#000" fill="none" stroke-linecap="round">
<line x1="464.7" y1="578.9" x2="472.4" y2="578.9" stroke-width="2.8"/>
<line x1="464.7" y1="555.6" x2="472.4" y2="555.6" stroke-width="2.8"/>
<line x1="464.7" y1="539.1" x2="472.4" y2="539.1" stroke-width="2.8"/>
<line x1="464.7" y1="526.3" x2="480.4" y2="526.3" stroke-width="2.8"/>
<line x1="464.7" y1="515.9" x2="472.4" y2="515.9" stroke-width="2.8"/>
<line x1="464.7" y1="507" x2="472.4" y2="507" stroke-width="2.8"/>
<line x1="464.7" y1="499.4" x2="472.4" y2="499.4" stroke-width="2.8"/>
<line x1="464.7" y1="492.6" x2="472.4" y2="492.6" stroke-width="2.8"/>
<line x1="464.7" y1="710.9" x2="472.4" y2="710.9" stroke-width="2.8"/>
<line x1="464.7" y1="687.6" x2="472.4" y2="687.6" stroke-width="2.8"/>
<line x1="464.7" y1="671.1" x2="472.4" y2="671.1" stroke-width="2.8"/>
<line x1="464.7" y1="658.3" x2="480.4" y2="658.3" stroke-width="2.8"/>
<line x1="464.7" y1="647.9" x2="472.4" y2="647.9" stroke-width="2.8"/>
<line x1="464.7" y1="639" x2="472.4" y2="639" stroke-width="2.8"/>
<line x1="464.7" y1="631.4" x2="472.4" y2="631.4" stroke-width="2.8"/>
<line x1="464.7" y1="624.6" x2="472.4" y2="624.6" stroke-width="2.8"/>
<line x1="512.6" y1="763.7" x2="512.6" y2="755.8" stroke-width="2.8"/>
<line x1="533.3" y1="763.7" x2="533.3" y2="755.8" stroke-width="2.8"/>
<line x1="548" y1="763.7" x2="548" y2="755.8" stroke-width="2.8"/>
<line x1="559.4" y1="763.7" x2="559.4" y2="747.7" stroke-width="2.8"/>
<line x1="568.7" y1="763.7" x2="568.7" y2="755.8" stroke-width="2.8"/>
<line x1="576.5" y1="763.7" x2="576.5" y2="755.8" stroke-width="2.8"/>
<line x1="583.3" y1="763.7" x2="583.3" y2="755.8" stroke-width="2.8"/>
<line x1="589.3" y1="763.7" x2="589.3" y2="755.8" stroke-width="2.8"/>
<line x1="630" y1="763.7" x2="630" y2="755.8" stroke-width="2.8"/>
<line x1="650.7" y1="763.7" x2="650.7" y2="755.8" stroke-width="2.8"/>
<line x1="665.4" y1="763.7" x2="665.4" y2="755.8" stroke-width="2.8"/>
<line x1="676.8" y1="763.7" x2="676.8" y2="747.7" stroke-width="2.8"/>
<line x1="686.1" y1="763.7" x2="686.1" y2="755.8" stroke-width="2.8"/>
<line x1="693.9" y1="763.7" x2="693.9" y2="755.8" stroke-width="2.8"/>
<line x1="700.7" y1="763.7" x2="700.7" y2="755.8" stroke-width="2.8"/>
<line x1="706.7" y1="763.7" x2="706.7" y2="755.8" stroke-width="2.8"/>
</g>
<g stroke="#000" fill="none">
<line x1="464.7" y1="485.1" x2="464.7" y2="751.9" stroke-width="3.2"/>
<line x1="475.1" y1="763.7" x2="713.6" y2="763.7" stroke-width="3.2"/>
<line x1="458.8" y1="486.6" x2="488.2" y2="486.6" stroke-width="3.0" stroke-linecap="round"/>
<line x1="458.8" y1="618.2" x2="488.2" y2="618.2" stroke-width="3.0" stroke-linecap="round"/>
<line x1="458.8" y1="750.4" x2="488.2" y2="750.4" stroke-width="3.0" stroke-linecap="round"/>
<line x1="458.8" y1="722.9" x2="464.7" y2="722.9" stroke-width="3.0" stroke-linecap="round"/>
<line x1="476.6" y1="740.4" x2="476.6" y2="769.7" stroke-width="3.0" stroke-linecap="round"/>
<line x1="594.7" y1="740.4" x2="594.7" y2="769.7" stroke-width="3.0" stroke-linecap="round"/>
<line x1="712.1" y1="740.4" x2="712.1" y2="769.7" stroke-width="3.0" stroke-linecap="round"/>
<line x1="501.3" y1="763.7" x2="501.3" y2="769.4" stroke-width="3.0" stroke-linecap="round"/>
<path d="M464.8,754.6 h9 v9.2 h-9 Z M466.4,758 v4.2 h3.3 v-4.2 Z" fill="#000" fill-rule="evenodd" stroke="none"/>
</g>
</g>
<g>
<rect x="828" y="121.2" width="21.0" height="21.0" fill="none" stroke="#000" stroke-width="3.7"/>
<rect x="849.2" y="122.6" width="21.0" height="21.0" fill="none" stroke="#000" stroke-width="3.7"/>
<rect x="888" y="135.8" width="21.0" height="21.0" fill="none" stroke="#000" stroke-width="3.7"/>
<rect x="922.4" y="238" width="21.0" height="21.0" fill="none" stroke="#000" stroke-width="3.7"/>
<rect x="957.4" y="288.2" width="21.0" height="21.0" fill="none" stroke="#000" stroke-width="3.7"/>
<rect x="992.6" y="315.5" width="21.0" height="21.0" fill="none" stroke="#000" stroke-width="3.7"/>
<circle cx="839.1" cy="74.6" r="12.6" fill="#000"/>
<circle cx="859.3" cy="98.4" r="12.6" fill="#000"/>
<circle cx="898.4" cy="117" r="12.6" fill="#000"/>
<circle cx="932.7" cy="166.4" r="12.6" fill="#000"/>
<circle cx="967.6" cy="202.4" r="12.6" fill="#000"/>
<circle cx="1003" cy="307.7" r="12.6" fill="#000"/>
<circle cx="1038.8" cy="326.9" r="12.6" fill="#000"/>
<path d="M838.7,113.5 C839.6,114.6 842.2,117.7 844,119.8 C845.7,121.8 847.5,123.9 849.2,126 C851,128.1 852.7,130.2 854.5,132.3 C856.2,134.4 858,136.6 859.7,138.7 C861.5,140.8 863.2,143 865,145.2 C866.7,147.3 868.5,149.5 870.2,151.8 C872,154 873.8,156.2 875.5,158.5 C877.3,160.8 879,163.1 880.8,165.4 C882.5,167.8 884.3,170.1 886,172.5 C887.8,175 889.5,177.4 891.3,179.9 C893,182.4 894.8,184.9 896.5,187.5 C898.3,190.1 900,192.7 901.8,195.4 C903.5,198.1 905.3,200.8 907.1,203.5 C908.8,206.3 910.6,209.1 912.3,211.9 C914.1,214.7 915.8,217.5 917.6,220.3 C919.3,223.1 921.1,225.9 922.8,228.8 C924.6,231.6 926.3,234.4 928.1,237.2 C929.8,240 931.6,242.8 933.3,245.5 C935.1,248.3 936.8,251 938.6,253.7 C940.4,256.4 942.1,259.1 943.9,261.6 C945.6,264.2 947.4,266.8 949.1,269.3 C950.9,271.7 952.6,274.1 954.4,276.5 C956.1,278.8 957.9,281.1 959.6,283.3 C961.4,285.5 963.1,287.6 964.9,289.7 C966.6,291.7 968.4,293.7 970.1,295.6 C971.9,297.5 973.7,299.3 975.4,301 C977.2,302.8 978.9,304.4 980.7,306 C982.4,307.5 984.2,309 985.9,310.4 C987.7,311.7 989.4,313 991.2,314.2 C992.9,315.4 994.7,316.5 996.4,317.5 C998.2,318.5 999.9,319.3 1001.7,320.1 C1003.4,321 1005.2,321.7 1007,322.3 C1008.7,322.9 1010.5,323.5 1012.2,323.9 C1014,324.4 1015.7,324.8 1017.5,325.1 C1019.2,325.5 1021,325.7 1022.7,325.9 C1024.5,326.1 1026.2,326.3 1028,326.4 C1029.7,326.5 1031.5,326.5 1033.2,326.5 C1035,326.6 1037.6,326.5 1038.5,326.5" fill="none" stroke="#000" stroke-width="2.8"/>
<path d="M839.1,76 C840,76.8 842.6,79 844.3,80.4 C846.1,81.9 847.8,83.3 849.6,84.7 C851.3,86 853.1,87.4 854.8,88.8 C856.6,90.1 858.3,91.4 860.1,92.8 C861.8,94.1 863.6,95.4 865.3,96.8 C867.1,98.1 868.8,99.5 870.6,100.8 C872.3,102.2 874.1,103.6 875.8,105 C877.6,106.4 879.3,107.8 881.1,109.3 C882.8,110.7 884.6,112.2 886.3,113.7 C888.1,115.3 889.8,116.9 891.6,118.5 C893.3,120.1 895.1,121.8 896.8,123.5 C898.6,125.2 900.3,127 902.1,128.9 C903.8,130.7 905.6,132.6 907.3,134.6 C909.1,136.5 910.8,138.6 912.6,140.6 C914.3,142.7 916.1,144.8 917.8,147 C919.6,149.2 921.3,151.4 923.1,153.7 C924.8,156 926.6,158.4 928.3,160.8 C930.1,163.2 931.8,165.6 933.6,168.2 C935.3,170.7 937.1,173.3 938.8,175.9 C940.5,178.5 942.3,181.2 944,184 C945.8,186.7 947.5,189.5 949.3,192.4 C951,195.2 952.8,198.1 954.5,201.1 C956.3,204 958,207 959.8,210 C961.5,213 963.3,216 965,219.1 C966.8,222.1 968.5,225.2 970.3,228.2 C972,231.3 973.8,234.3 975.5,237.4 C977.3,240.4 979,243.5 980.8,246.5 C982.5,249.5 984.3,252.5 986,255.4 C987.8,258.3 989.5,261.3 991.3,264.1 C993,267 994.8,269.8 996.5,272.5 C998.3,275.3 1000,278 1001.8,280.6 C1003.5,283.2 1005.3,285.8 1007,288.2 C1008.8,290.7 1010.5,293.1 1012.3,295.3 C1014,297.6 1015.8,299.8 1017.5,301.9 C1019.3,303.9 1021,305.9 1022.8,307.7 C1024.5,309.5 1026.3,311.3 1028,312.8 C1029.8,314.4 1031.5,315.8 1033.3,317.1 C1035,318.4 1037.6,320 1038.5,320.6" fill="none" stroke="#000" stroke-width="2.8" stroke-dasharray="17.2 5.9 5.6 5.9" stroke-dashoffset="15.3"/>
<g stroke="#000" fill="none" stroke-linecap="round">
<line x1="802.5" y1="155.5" x2="810.2" y2="155.5" stroke-width="2.8"/>
<line x1="802.5" y1="132.2" x2="810.2" y2="132.2" stroke-width="2.8"/>
<line x1="802.5" y1="115.7" x2="810.2" y2="115.7" stroke-width="2.8"/>
<line x1="802.5" y1="102.9" x2="818.2" y2="102.9" stroke-width="2.8"/>
<line x1="802.5" y1="92.5" x2="810.2" y2="92.5" stroke-width="2.8"/>
<line x1="802.5" y1="83.6" x2="810.2" y2="83.6" stroke-width="2.8"/>
<line x1="802.5" y1="76" x2="810.2" y2="76" stroke-width="2.8"/>
<line x1="802.5" y1="69.2" x2="810.2" y2="69.2" stroke-width="2.8"/>
<line x1="802.5" y1="287.5" x2="810.2" y2="287.5" stroke-width="2.8"/>
<line x1="802.5" y1="264.2" x2="810.2" y2="264.2" stroke-width="2.8"/>
<line x1="802.5" y1="247.7" x2="810.2" y2="247.7" stroke-width="2.8"/>
<line x1="802.5" y1="234.9" x2="818.2" y2="234.9" stroke-width="2.8"/>
<line x1="802.5" y1="224.5" x2="810.2" y2="224.5" stroke-width="2.8"/>
<line x1="802.5" y1="215.6" x2="810.2" y2="215.6" stroke-width="2.8"/>
<line x1="802.5" y1="208" x2="810.2" y2="208" stroke-width="2.8"/>
<line x1="802.5" y1="201.2" x2="810.2" y2="201.2" stroke-width="2.8"/>
<line x1="850.4" y1="340.3" x2="850.4" y2="332.4" stroke-width="2.8"/>
<line x1="871.1" y1="340.3" x2="871.1" y2="332.4" stroke-width="2.8"/>
<line x1="885.8" y1="340.3" x2="885.8" y2="332.4" stroke-width="2.8"/>
<line x1="897.2" y1="340.3" x2="897.2" y2="324.3" stroke-width="2.8"/>
<line x1="906.5" y1="340.3" x2="906.5" y2="332.4" stroke-width="2.8"/>
<line x1="914.3" y1="340.3" x2="914.3" y2="332.4" stroke-width="2.8"/>
<line x1="921.1" y1="340.3" x2="921.1" y2="332.4" stroke-width="2.8"/>
<line x1="927.1" y1="340.3" x2="927.1" y2="332.4" stroke-width="2.8"/>
<line x1="967.8" y1="340.3" x2="967.8" y2="332.4" stroke-width="2.8"/>
<line x1="988.5" y1="340.3" x2="988.5" y2="332.4" stroke-width="2.8"/>
<line x1="1003.2" y1="340.3" x2="1003.2" y2="332.4" stroke-width="2.8"/>
<line x1="1014.6" y1="340.3" x2="1014.6" y2="324.3" stroke-width="2.8"/>
<line x1="1023.9" y1="340.3" x2="1023.9" y2="332.4" stroke-width="2.8"/>
<line x1="1031.7" y1="340.3" x2="1031.7" y2="332.4" stroke-width="2.8"/>
<line x1="1038.5" y1="340.3" x2="1038.5" y2="332.4" stroke-width="2.8"/>
<line x1="1044.5" y1="340.3" x2="1044.5" y2="332.4" stroke-width="2.8"/>
</g>
<g stroke="#000" fill="none">
<line x1="802.5" y1="61.7" x2="802.5" y2="328.5" stroke-width="3.2"/>
<line x1="812.9" y1="340.3" x2="1051.4" y2="340.3" stroke-width="3.2"/>
<line x1="796.6" y1="63.2" x2="826" y2="63.2" stroke-width="3.0" stroke-linecap="round"/>
<line x1="796.6" y1="194.8" x2="826" y2="194.8" stroke-width="3.0" stroke-linecap="round"/>
<line x1="796.6" y1="327" x2="826" y2="327" stroke-width="3.0" stroke-linecap="round"/>
<line x1="796.6" y1="299.5" x2="802.5" y2="299.5" stroke-width="3.0" stroke-linecap="round"/>
<line x1="814.4" y1="317" x2="814.4" y2="346.3" stroke-width="3.0" stroke-linecap="round"/>
<line x1="932.5" y1="317" x2="932.5" y2="346.3" stroke-width="3.0" stroke-linecap="round"/>
<line x1="1049.9" y1="317" x2="1049.9" y2="346.3" stroke-width="3.0" stroke-linecap="round"/>
<line x1="839.1" y1="340.3" x2="839.1" y2="346" stroke-width="3.0" stroke-linecap="round"/>
<path d="M802.6,331.2 h9 v9.2 h-9 Z M804.2,334.6 v4.2 h3.3 v-4.2 Z" fill="#000" fill-rule="evenodd" stroke="none"/>
</g>
</g>
<g>
<circle cx="839.2" cy="529.9" r="10.8" fill="#454545" stroke="#000" stroke-width="3.6"/>
<circle cx="859.6" cy="515.3" r="10.8" fill="#454545" stroke="#000" stroke-width="3.6"/>
<circle cx="898.5" cy="543.5" r="10.8" fill="#454545" stroke="#000" stroke-width="3.6"/>
<circle cx="932.7" cy="603.3" r="10.8" fill="#454545" stroke="#000" stroke-width="3.6"/>
<circle cx="967.7" cy="643.7" r="10.8" fill="#454545" stroke="#000" stroke-width="3.6"/>
<circle cx="1003.2" cy="699.7" r="10.8" fill="#454545" stroke="#000" stroke-width="3.6"/>
<circle cx="1037.8" cy="751" r="10.8" fill="#454545" stroke="#000" stroke-width="3.6"/>
<rect x="829.6" y="524.9" width="19.0" height="19.0" fill="#848484" stroke="#000" stroke-width="3.6" stroke-linejoin="round"/>
<rect x="850.2" y="547.9" width="19.0" height="19.0" fill="#848484" stroke="#000" stroke-width="3.6" stroke-linejoin="round"/>
<rect x="889" y="544.6" width="19.0" height="19.0" fill="#848484" stroke="#000" stroke-width="3.6" stroke-linejoin="round"/>
<rect x="923" y="621.9" width="19.0" height="19.0" fill="#848484" stroke="#000" stroke-width="3.6" stroke-linejoin="round"/>
<rect x="958.4" y="614.3" width="19.0" height="19.0" fill="#848484" stroke="#000" stroke-width="3.6" stroke-linejoin="round"/>
<rect x="991.7" y="739.3" width="23.2" height="21.0" fill="#000" rx="1"/>
<path d="M839.2,484.2 L853.4,508.2 L825,508.2 Z" fill="#c9c9c9" stroke="#000" stroke-width="3.6" stroke-linejoin="round"/>
<path d="M859.7,528 L873.9,552 L845.5,552 Z" fill="#c9c9c9" stroke="#000" stroke-width="3.6" stroke-linejoin="round"/>
<path d="M898.5,548 L912.7,572 L884.3,572 Z" fill="#c9c9c9" stroke="#000" stroke-width="3.6" stroke-linejoin="round"/>
<path d="M932.7,602.7 L946.9,626.7 L918.5,626.7 Z" fill="#c9c9c9" stroke="#000" stroke-width="3.6" stroke-linejoin="round"/>
<path d="M967.7,663.3 L981.9,687.3 L953.5,687.3 Z" fill="#c9c9c9" stroke="#000" stroke-width="3.6" stroke-linejoin="round"/>
<path d="M1003.2,734.6 L1017.4,758.6 L989,758.6 Z" fill="#c9c9c9" stroke="#000" stroke-width="3.6" stroke-linejoin="round"/>
<path d="M862.2,530 C863.1,530.4 865.6,531.7 867.4,532.7 C869.1,533.7 870.8,534.7 872.5,535.7 C874.2,536.8 875.9,537.9 877.7,539.1 C879.4,540.3 881.1,541.5 882.8,542.8 C884.5,544.1 886.2,545.5 888,546.9 C889.7,548.3 891.4,549.8 893.1,551.3 C894.8,552.8 896.6,554.4 898.3,556 C900,557.7 901.7,559.4 903.4,561.1 C905.1,562.9 906.9,564.7 908.6,566.6 C910.3,568.5 912,570.5 913.7,572.5 C915.4,574.5 917.2,576.6 918.9,578.7 C920.6,580.8 922.3,583 924,585.3 C925.8,587.6 927.5,589.9 929.2,592.3 C930.9,594.7 932.6,597.1 934.3,599.7 C936.1,602.2 937.8,604.8 939.5,607.4 C941.2,610.1 942.9,612.8 944.6,615.6 C946.4,618.3 948.1,621.2 949.8,624 C951.5,626.9 953.2,629.8 955,632.7 C956.7,635.6 958.4,638.5 960.1,641.5 C961.8,644.4 963.5,647.4 965.3,650.4 C967,653.4 968.7,656.3 970.4,659.3 C972.1,662.3 973.8,665.2 975.6,668.2 C977.3,671.1 979,674 980.7,676.9 C982.4,679.7 984.2,682.6 985.9,685.4 C987.6,688.1 989.3,690.9 991,693.6 C992.7,696.3 994.5,698.9 996.2,701.4 C997.9,704 999.6,706.5 1001.3,708.9 C1003,711.3 1004.8,713.6 1006.5,715.8 C1008.2,718 1009.9,720.2 1011.6,722.2 C1013.4,724.2 1015.1,726.1 1016.8,727.9 C1018.5,729.7 1020.2,731.3 1021.9,732.9 C1023.7,734.4 1025.4,735.8 1027.1,737.1 C1028.8,738.3 1030.5,739.5 1032.2,740.4 C1034,741.4 1036.5,742.4 1037.4,742.8" fill="none" stroke="#000" stroke-width="2.8"/>
<path d="M854.2,540.2 L859.3,544.7" fill="none" stroke="#000" stroke-width="2.8"/>
<path d="M870.2,558.4 C871.1,559.3 873.7,561.9 875.4,563.7 C877.2,565.6 878.9,567.4 880.7,569.3 C882.4,571.2 884.2,573.1 885.9,575.1 C887.7,577.1 889.4,579.1 891.2,581.1 C892.9,583.1 894.7,585.2 896.4,587.3 C898.2,589.4 899.9,591.5 901.7,593.7 C903.4,595.9 905.2,598.1 906.9,600.3 C908.7,602.5 910.4,604.8 912.2,607 C913.9,609.3 915.6,611.6 917.4,613.9 C919.1,616.3 920.9,618.6 922.6,621 C924.4,623.4 926.1,625.8 927.9,628.2 C929.6,630.6 931.4,633 933.1,635.5 C934.9,637.9 936.6,640.4 938.4,642.9 C940.1,645.4 941.9,647.9 943.6,650.4 C945.4,652.9 947.1,655.4 948.9,658 C950.6,660.5 952.4,663.1 954.1,665.6 C955.8,668.2 957.6,670.8 959.3,673.3 C961.1,675.9 962.8,678.5 964.6,681 C966.3,683.5 968.1,686.1 969.8,688.6 C971.6,691.1 973.3,693.5 975.1,696 C976.8,698.4 978.6,700.8 980.3,703.1 C982.1,705.4 983.8,707.7 985.6,709.9 C987.3,712.1 989.1,714.3 990.8,716.3 C992.6,718.4 994.3,720.3 996,722.2 C997.8,724.1 999.5,725.9 1001.3,727.6 C1003,729.2 1004.8,730.8 1006.5,732.3 C1008.3,733.8 1010,735.1 1011.8,736.4 C1013.5,737.6 1015.3,738.7 1017,739.8 C1018.8,740.8 1020.5,741.7 1022.3,742.5 C1024,743.4 1025.8,744.1 1027.5,744.7 C1029.3,745.3 1031,745.7 1032.8,746.1 C1034.5,746.5 1037.1,746.8 1038,747" fill="none" stroke="#000" stroke-width="2.8" stroke-dasharray="17.2 5.9 5.6 5.9"/>
<path d="M838.6,511.9 L841.4,513.7" fill="none" stroke="#000" stroke-width="2.8" stroke-dasharray="2.8 8.7"/>
<path d="M874.2,542.6 C875.1,543.4 877.7,545.4 879.5,547 C881.2,548.6 883,550.4 884.8,552.2 C886.5,554.1 888.3,556.1 890.1,558.1 C891.8,560.2 893.6,562.4 895.3,564.7 C897.1,567 898.9,569.4 900.6,571.9 C902.4,574.3 904.1,576.9 905.9,579.5 C907.7,582.1 909.4,584.8 911.2,587.6 C912.9,590.4 914.7,593.2 916.5,596.1 C918.2,598.9 920,601.9 921.8,604.8 C923.5,607.8 925.3,610.8 927,613.8 C928.8,616.9 930.6,619.9 932.3,623 C934.1,626.1 935.8,629.2 937.6,632.2 C939.4,635.3 941.1,638.4 942.9,641.5 C944.7,644.6 946.4,647.7 948.2,650.8 C949.9,653.8 951.7,656.9 953.5,659.9 C955.2,662.9 957,665.9 958.7,668.8 C960.5,671.8 962.3,674.7 964,677.5 C965.8,680.4 967.5,683.2 969.3,685.9 C971.1,688.7 972.8,691.4 974.6,694 C976.4,696.6 978.1,699.2 979.9,701.6 C981.6,704.1 983.4,706.5 985.2,708.8 C986.9,711.1 988.7,713.4 990.4,715.5 C992.2,717.6 994,719.6 995.7,721.6 C997.5,723.5 999.3,725.3 1001,727 C1002.8,728.8 1004.5,730.4 1006.3,731.9 C1008.1,733.4 1009.8,734.8 1011.6,736.1 C1013.3,737.4 1015.1,738.6 1016.9,739.7 C1018.6,740.8 1020.4,741.7 1022.1,742.6 C1023.9,743.5 1025.7,744.2 1027.4,744.9 C1029.2,745.5 1031,746.1 1032.7,746.5 C1034.5,746.9 1037.1,747.3 1038,747.5" fill="none" stroke="#000" stroke-width="2.8" stroke-dasharray="2.8 8.7"/>
<g stroke="#000" fill="none" stroke-linecap="round">
<line x1="802.5" y1="578.9" x2="810.2" y2="578.9" stroke-width="2.8"/>
<line x1="802.5" y1="555.6" x2="810.2" y2="555.6" stroke-width="2.8"/>
<line x1="802.5" y1="539.1" x2="810.2" y2="539.1" stroke-width="2.8"/>
<line x1="802.5" y1="526.3" x2="818.2" y2="526.3" stroke-width="2.8"/>
<line x1="802.5" y1="515.9" x2="810.2" y2="515.9" stroke-width="2.8"/>
<line x1="802.5" y1="507" x2="810.2" y2="507" stroke-width="2.8"/>
<line x1="802.5" y1="499.4" x2="810.2" y2="499.4" stroke-width="2.8"/>
<line x1="802.5" y1="492.6" x2="810.2" y2="492.6" stroke-width="2.8"/>
<line x1="802.5" y1="710.9" x2="810.2" y2="710.9" stroke-width="2.8"/>
<line x1="802.5" y1="687.6" x2="810.2" y2="687.6" stroke-width="2.8"/>
<line x1="802.5" y1="671.1" x2="810.2" y2="671.1" stroke-width="2.8"/>
<line x1="802.5" y1="658.3" x2="818.2" y2="658.3" stroke-width="2.8"/>
<line x1="802.5" y1="647.9" x2="810.2" y2="647.9" stroke-width="2.8"/>
<line x1="802.5" y1="639" x2="810.2" y2="639" stroke-width="2.8"/>
<line x1="802.5" y1="631.4" x2="810.2" y2="631.4" stroke-width="2.8"/>
<line x1="802.5" y1="624.6" x2="810.2" y2="624.6" stroke-width="2.8"/>
<line x1="850.4" y1="763.7" x2="850.4" y2="755.8" stroke-width="2.8"/>
<line x1="871.1" y1="763.7" x2="871.1" y2="755.8" stroke-width="2.8"/>
<line x1="885.8" y1="763.7" x2="885.8" y2="755.8" stroke-width="2.8"/>
<line x1="897.2" y1="763.7" x2="897.2" y2="747.7" stroke-width="2.8"/>
<line x1="906.5" y1="763.7" x2="906.5" y2="755.8" stroke-width="2.8"/>
<line x1="914.3" y1="763.7" x2="914.3" y2="755.8" stroke-width="2.8"/>
<line x1="921.1" y1="763.7" x2="921.1" y2="755.8" stroke-width="2.8"/>
<line x1="927.1" y1="763.7" x2="927.1" y2="755.8" stroke-width="2.8"/>
<line x1="967.8" y1="763.7" x2="967.8" y2="755.8" stroke-width="2.8"/>
<line x1="988.5" y1="763.7" x2="988.5" y2="755.8" stroke-width="2.8"/>
<line x1="1003.2" y1="763.7" x2="1003.2" y2="755.8" stroke-width="2.8"/>
<line x1="1014.6" y1="763.7" x2="1014.6" y2="747.7" stroke-width="2.8"/>
<line x1="1023.9" y1="763.7" x2="1023.9" y2="755.8" stroke-width="2.8"/>
<line x1="1031.7" y1="763.7" x2="1031.7" y2="755.8" stroke-width="2.8"/>
<line x1="1038.5" y1="763.7" x2="1038.5" y2="755.8" stroke-width="2.8"/>
<line x1="1044.5" y1="763.7" x2="1044.5" y2="755.8" stroke-width="2.8"/>
</g>
<g stroke="#000" fill="none">
<line x1="802.5" y1="485.1" x2="802.5" y2="751.9" stroke-width="3.2"/>
<line x1="812.9" y1="763.7" x2="1051.4" y2="763.7" stroke-width="3.2"/>
<line x1="796.6" y1="486.6" x2="826" y2="486.6" stroke-width="3.0" stroke-linecap="round"/>
<line x1="796.6" y1="618.2" x2="826" y2="618.2" stroke-width="3.0" stroke-linecap="round"/>
<line x1="796.6" y1="750.4" x2="826" y2="750.4" stroke-width="3.0" stroke-linecap="round"/>
<line x1="796.6" y1="722.9" x2="802.5" y2="722.9" stroke-width="3.0" stroke-linecap="round"/>
<line x1="814.4" y1="740.4" x2="814.4" y2="769.7" stroke-width="3.0" stroke-linecap="round"/>
<line x1="932.5" y1="740.4" x2="932.5" y2="769.7" stroke-width="3.0" stroke-linecap="round"/>
<line x1="1049.9" y1="740.4" x2="1049.9" y2="769.7" stroke-width="3.0" stroke-linecap="round"/>
<line x1="839.1" y1="763.7" x2="839.1" y2="769.4" stroke-width="3.0" stroke-linecap="round"/>
<path d="M802.6,754.6 h9 v9.2 h-9 Z M804.2,758 v4.2 h3.3 v-4.2 Z" fill="#000" fill-rule="evenodd" stroke="none"/>
</g>
</g>
<g>
<rect x="1166.4" y="123.5" width="21.0" height="21.0" fill="none" stroke="#000" stroke-width="3.7"/>
<rect x="1186.5" y="151.8" width="21.0" height="21.0" fill="none" stroke="#000" stroke-width="3.7"/>
<rect x="1226.1" y="154.9" width="21.0" height="21.0" fill="none" stroke="#000" stroke-width="3.7"/>
<rect x="1260.2" y="153.1" width="21.0" height="21.0" fill="none" stroke="#000" stroke-width="3.7"/>
<rect x="1295" y="191.3" width="21.0" height="21.0" fill="none" stroke="#000" stroke-width="3.7"/>
<circle cx="1176.8" cy="100.5" r="12.6" fill="#000"/>
<circle cx="1197.4" cy="123.9" r="12.6" fill="#000"/>
<circle cx="1236.7" cy="107.8" r="12.6" fill="#000"/>
<circle cx="1270.4" cy="145.4" r="12.6" fill="#000"/>
<circle cx="1305.6" cy="207.3" r="12.6" fill="#000"/>
<rect x="1328.5" y="250.2" width="25.0" height="25.0" fill="#000" rx="1"/>
<rect x="1363.9" y="315" width="25.0" height="25.0" fill="#000" rx="1"/>
<path d="M1177.4,143 C1178.3,143.2 1180.9,143.7 1182.6,144.1 C1184.4,144.5 1186.1,144.9 1187.8,145.4 C1189.6,145.8 1191.3,146.2 1193.1,146.7 C1194.8,147.1 1196.6,147.6 1198.3,148.1 C1200,148.6 1201.8,149.1 1203.5,149.6 C1205.3,150.1 1207,150.7 1208.7,151.3 C1210.5,151.8 1212.2,152.4 1214,153 C1215.7,153.7 1217.4,154.3 1219.2,155 C1220.9,155.6 1222.7,156.3 1224.4,157.1 C1226.2,157.8 1227.9,158.5 1229.6,159.3 C1231.4,160.1 1233.1,160.9 1234.9,161.8 C1236.6,162.6 1238.3,163.5 1240.1,164.4 C1241.8,165.4 1243.6,166.3 1245.3,167.3 C1247,168.3 1248.8,169.3 1250.5,170.4 C1252.3,171.5 1254,172.6 1255.8,173.8 C1257.5,174.9 1259.2,176.1 1261,177.4 C1262.7,178.6 1264.5,179.9 1266.2,181.3 C1267.9,182.6 1269.7,184 1271.4,185.4 C1273.2,186.8 1274.9,188.3 1276.7,189.9 C1278.4,191.4 1280.1,193 1281.9,194.6 C1283.6,196.3 1285.4,197.9 1287.1,199.7 C1288.8,201.4 1290.6,203.2 1292.3,205 C1294.1,206.8 1295.8,208.7 1297.5,210.6 C1299.3,212.4 1301,214.4 1302.8,216.3 C1304.5,218.3 1306.3,220.3 1308,222.3 C1309.7,224.3 1311.5,226.3 1313.2,228.4 C1315,230.5 1316.7,232.6 1318.4,234.7 C1320.2,236.8 1321.9,238.9 1323.7,241 C1325.4,243.2 1327.1,245.3 1328.9,247.5 C1330.6,249.6 1332.4,251.8 1334.1,254 C1335.9,256.2 1337.6,258.4 1339.3,260.5 C1341.1,262.7 1342.8,264.9 1344.6,267.1 C1346.3,269.3 1348,271.5 1349.8,273.6 C1351.5,275.8 1353.3,278 1355,280.1 C1356.7,282.3 1358.5,284.4 1360.2,286.5 C1362,288.6 1363.7,290.7 1365.5,292.8 C1367.2,294.9 1368.9,297 1370.7,299 C1372.4,301.1 1375,304.1 1375.9,305.1" fill="none" stroke="#000" stroke-width="2.8"/>
<path d="M1177,100.5 C1177.9,100.6 1180.5,101.1 1182.2,101.4 C1183.9,101.8 1185.7,102.2 1187.4,102.7 C1189.2,103.1 1190.9,103.6 1192.6,104.1 C1194.4,104.6 1196.1,105.2 1197.8,105.8 C1199.6,106.4 1201.3,107 1203.1,107.7 C1204.8,108.4 1206.5,109.1 1208.3,109.9 C1210,110.6 1211.7,111.4 1213.5,112.3 C1215.2,113.2 1216.9,114.1 1218.7,115 C1220.4,116 1222.2,117 1223.9,118 C1225.6,119.1 1227.4,120.2 1229.1,121.3 C1230.8,122.5 1232.6,123.7 1234.3,124.9 C1236.1,126.1 1237.8,127.4 1239.5,128.8 C1241.3,130.2 1243,131.6 1244.7,133 C1246.5,134.5 1248.2,136 1249.9,137.6 C1251.7,139.1 1253.4,140.8 1255.2,142.5 C1256.9,144.1 1258.6,145.9 1260.4,147.7 C1262.1,149.5 1263.8,151.3 1265.6,153.3 C1267.3,155.2 1269.1,157.2 1270.8,159.2 C1272.5,161.3 1274.3,163.4 1276,165.5 C1277.7,167.7 1279.5,169.9 1281.2,172.2 C1282.9,174.5 1284.7,176.9 1286.4,179.3 C1288.2,181.7 1289.9,184.2 1291.6,186.8 C1293.4,189.3 1295.1,191.9 1296.8,194.5 C1298.6,197.1 1300.3,199.8 1302.1,202.5 C1303.8,205.3 1305.5,208 1307.3,210.8 C1309,213.6 1310.7,216.4 1312.5,219.2 C1314.2,222 1315.9,224.9 1317.7,227.7 C1319.4,230.6 1321.2,233.4 1322.9,236.3 C1324.6,239.2 1326.4,242 1328.1,244.9 C1329.8,247.8 1331.6,250.6 1333.3,253.5 C1335.1,256.3 1336.8,259.1 1338.5,261.9 C1340.3,264.7 1342,267.5 1343.7,270.2 C1345.5,272.8 1347.2,275.5 1348.9,278.1 C1350.7,280.6 1352.4,283.1 1354.2,285.6 C1355.9,288 1357.6,290.3 1359.4,292.6 C1361.1,294.8 1362.8,296.9 1364.6,298.9 C1366.3,301 1368.1,302.9 1369.8,304.7 C1371.5,306.4 1374.1,308.7 1375,309.6" fill="none" stroke="#000" stroke-width="2.8" stroke-dasharray="17.2 5.9 5.6 5.9" stroke-dashoffset="24.7"/>
<g stroke="#000" fill="none" stroke-linecap="round">
<line x1="1140.3" y1="155.5" x2="1148" y2="155.5" stroke-width="2.8"/>
<line x1="1140.3" y1="132.2" x2="1148" y2="132.2" stroke-width="2.8"/>
<line x1="1140.3" y1="115.7" x2="1148" y2="115.7" stroke-width="2.8"/>
<line x1="1140.3" y1="102.9" x2="1156" y2="102.9" stroke-width="2.8"/>
<line x1="1140.3" y1="92.5" x2="1148" y2="92.5" stroke-width="2.8"/>
<line x1="1140.3" y1="83.6" x2="1148" y2="83.6" stroke-width="2.8"/>
<line x1="1140.3" y1="76" x2="1148" y2="76" stroke-width="2.8"/>
<line x1="1140.3" y1="69.2" x2="1148" y2="69.2" stroke-width="2.8"/>
<line x1="1140.3" y1="287.5" x2="1148" y2="287.5" stroke-width="2.8"/>
<line x1="1140.3" y1="264.2" x2="1148" y2="264.2" stroke-width="2.8"/>
<line x1="1140.3" y1="247.7" x2="1148" y2="247.7" stroke-width="2.8"/>
<line x1="1140.3" y1="234.9" x2="1156" y2="234.9" stroke-width="2.8"/>
<line x1="1140.3" y1="224.5" x2="1148" y2="224.5" stroke-width="2.8"/>
<line x1="1140.3" y1="215.6" x2="1148" y2="215.6" stroke-width="2.8"/>
<line x1="1140.3" y1="208" x2="1148" y2="208" stroke-width="2.8"/>
<line x1="1140.3" y1="201.2" x2="1148" y2="201.2" stroke-width="2.8"/>
<line x1="1188.2" y1="340.3" x2="1188.2" y2="332.4" stroke-width="2.8"/>
<line x1="1208.9" y1="340.3" x2="1208.9" y2="332.4" stroke-width="2.8"/>
<line x1="1223.6" y1="340.3" x2="1223.6" y2="332.4" stroke-width="2.8"/>
<line x1="1235" y1="340.3" x2="1235" y2="324.3" stroke-width="2.8"/>
<line x1="1244.3" y1="340.3" x2="1244.3" y2="332.4" stroke-width="2.8"/>
<line x1="1252.1" y1="340.3" x2="1252.1" y2="332.4" stroke-width="2.8"/>
<line x1="1258.9" y1="340.3" x2="1258.9" y2="332.4" stroke-width="2.8"/>
<line x1="1264.9" y1="340.3" x2="1264.9" y2="332.4" stroke-width="2.8"/>
<line x1="1305.6" y1="340.3" x2="1305.6" y2="332.4" stroke-width="2.8"/>
<line x1="1326.3" y1="340.3" x2="1326.3" y2="332.4" stroke-width="2.8"/>
<line x1="1341" y1="340.3" x2="1341" y2="332.4" stroke-width="2.8"/>
<line x1="1352.4" y1="340.3" x2="1352.4" y2="324.3" stroke-width="2.8"/>
<line x1="1361.7" y1="340.3" x2="1361.7" y2="332.4" stroke-width="2.8"/>
<line x1="1369.5" y1="340.3" x2="1369.5" y2="332.4" stroke-width="2.8"/>
<line x1="1376.3" y1="340.3" x2="1376.3" y2="332.4" stroke-width="2.8"/>
<line x1="1382.3" y1="340.3" x2="1382.3" y2="332.4" stroke-width="2.8"/>
</g>
<g stroke="#000" fill="none">
<line x1="1140.3" y1="61.7" x2="1140.3" y2="328.5" stroke-width="3.2"/>
<line x1="1150.7" y1="340.3" x2="1389.2" y2="340.3" stroke-width="3.2"/>
<line x1="1134.4" y1="63.2" x2="1163.8" y2="63.2" stroke-width="3.0" stroke-linecap="round"/>
<line x1="1134.4" y1="194.8" x2="1163.8" y2="194.8" stroke-width="3.0" stroke-linecap="round"/>
<line x1="1134.4" y1="327" x2="1163.8" y2="327" stroke-width="3.0" stroke-linecap="round"/>
<line x1="1134.4" y1="299.5" x2="1140.3" y2="299.5" stroke-width="3.0" stroke-linecap="round"/>
<line x1="1152.2" y1="317" x2="1152.2" y2="346.3" stroke-width="3.0" stroke-linecap="round"/>
<line x1="1270.3" y1="317" x2="1270.3" y2="346.3" stroke-width="3.0" stroke-linecap="round"/>
<line x1="1387.7" y1="317" x2="1387.7" y2="346.3" stroke-width="3.0" stroke-linecap="round"/>
<line x1="1176.9" y1="340.3" x2="1176.9" y2="346" stroke-width="3.0" stroke-linecap="round"/>
<path d="M1140.4,331.2 h9 v9.2 h-9 Z M1142,334.6 v4.2 h3.3 v-4.2 Z" fill="#000" fill-rule="evenodd" stroke="none"/>
</g>
</g>
<g>
<circle cx="1177" cy="517.8" r="10.8" fill="#454545" stroke="#000" stroke-width="3.6"/>
<circle cx="1197.8" cy="547.5" r="10.8" fill="#454545" stroke="#000" stroke-width="3.6"/>
<circle cx="1236.7" cy="544.2" r="10.8" fill="#454545" stroke="#000" stroke-width="3.6"/>
<circle cx="1270.4" cy="558.8" r="10.8" fill="#454545" stroke="#000" stroke-width="3.6"/>
<circle cx="1305.4" cy="621" r="10.8" fill="#454545" stroke="#000" stroke-width="3.6"/>
<circle cx="1340.9" cy="654.6" r="10.8" fill="#454545" stroke="#000" stroke-width="3.6"/>
<rect x="1167.4" y="535.1" width="19.0" height="19.0" fill="#848484" stroke="#000" stroke-width="3.6" stroke-linejoin="round"/>
<rect x="1188.2" y="568.9" width="19.0" height="19.0" fill="#848484" stroke="#000" stroke-width="3.6" stroke-linejoin="round"/>
<rect x="1227.2" y="544.4" width="19.0" height="19.0" fill="#848484" stroke="#000" stroke-width="3.6" stroke-linejoin="round"/>
<rect x="1260.9" y="589.7" width="19.0" height="19.0" fill="#848484" stroke="#000" stroke-width="3.6" stroke-linejoin="round"/>
<rect x="1295.9" y="604" width="19.0" height="19.0" fill="#848484" stroke="#000" stroke-width="3.6" stroke-linejoin="round"/>
<rect x="1331.6" y="688.4" width="19.0" height="19.0" fill="#848484" stroke="#000" stroke-width="3.6" stroke-linejoin="round"/>
<rect x="1365.3" y="739.3" width="23.2" height="21.0" fill="#000" rx="1"/>
<path d="M1176.9,545.5 L1191.1,569.5 L1162.7,569.5 Z" fill="#c9c9c9" stroke="#000" stroke-width="3.6" stroke-linejoin="round"/>
<path d="M1197.8,551.4 L1212,575.4 L1183.6,575.4 Z" fill="#c9c9c9" stroke="#000" stroke-width="3.6" stroke-linejoin="round"/>
<path d="M1236.7,547.6 L1250.9,571.6 L1222.5,571.6 Z" fill="#c9c9c9" stroke="#000" stroke-width="3.6" stroke-linejoin="round"/>
<path d="M1270.4,564.3 L1284.6,588.3 L1256.2,588.3 Z" fill="#c9c9c9" stroke="#000" stroke-width="3.6" stroke-linejoin="round"/>
<path d="M1305.4,644.5 L1319.6,668.5 L1291.2,668.5 Z" fill="#c9c9c9" stroke="#000" stroke-width="3.6" stroke-linejoin="round"/>
<path d="M1341,706.4 L1355.2,730.4 L1326.8,730.4 Z" fill="#c9c9c9" stroke="#000" stroke-width="3.6" stroke-linejoin="round"/>
<path d="M1376.3,734.6 L1390.5,758.6 L1362.1,758.6 Z" fill="#c9c9c9" stroke="#000" stroke-width="3.6" stroke-linejoin="round"/>
<path d="M1177.1,525.7 C1178,525.9 1180.6,526.6 1182.3,527.1 C1184.1,527.6 1185.8,528.1 1187.6,528.6 C1189.3,529.2 1191.1,529.7 1192.8,530.2 C1194.6,530.8 1196.3,531.4 1198.1,531.9 C1199.8,532.5 1201.6,533.1 1203.3,533.8 C1205.1,534.4 1206.8,535 1208.6,535.7 C1210.3,536.4 1212.1,537.1 1213.8,537.8 C1215.6,538.5 1217.3,539.3 1219.1,540 C1220.8,540.8 1222.6,541.6 1224.3,542.5 C1226.1,543.3 1227.8,544.2 1229.5,545.1 C1231.3,546 1233,546.9 1234.8,547.9 C1236.5,548.9 1238.3,549.9 1240,551 C1241.8,552 1243.5,553.1 1245.3,554.3 C1247,555.4 1248.8,556.6 1250.5,557.8 C1252.3,559 1254,560.3 1255.8,561.6 C1257.5,562.9 1259.3,564.3 1261,565.7 C1262.8,567.1 1264.5,568.6 1266.3,570.1 C1268,571.6 1269.8,573.2 1271.5,574.8 C1273.3,576.5 1275,578.2 1276.8,579.9 C1278.5,581.6 1280.2,583.4 1282,585.3 C1283.7,587.2 1285.5,589.1 1287.2,591.1 C1289,593.1 1290.7,595.1 1292.5,597.2 C1294.2,599.3 1296,601.5 1297.7,603.7 C1299.5,605.9 1301.2,608.2 1303,610.5 C1304.7,612.9 1306.5,615.2 1308.2,617.7 C1310,620.1 1311.7,622.6 1313.5,625.1 C1315.2,627.6 1317,630.2 1318.7,632.8 C1320.5,635.4 1322.2,638.1 1324,640.8 C1325.7,643.5 1327.4,646.2 1329.2,649 C1330.9,651.8 1332.7,654.6 1334.4,657.4 C1336.2,660.2 1337.9,663.1 1339.7,666 C1341.4,668.9 1343.2,671.8 1344.9,674.8 C1346.7,677.7 1348.4,680.7 1350.2,683.6 C1351.9,686.6 1353.7,689.5 1355.4,692.4 C1357.2,695.3 1358.9,698.1 1360.7,700.9 C1362.4,703.7 1364.2,706.4 1365.9,709 C1367.7,711.6 1369.4,714.2 1371.2,716.5 C1372.9,718.9 1375.5,722.2 1376.4,723.3" fill="none" stroke="#000" stroke-width="2.8"/>
<path d="M1266.5,602.3 C1267.4,603.1 1270.1,605.4 1271.9,607.1 C1273.8,608.8 1275.6,610.5 1277.4,612.3 C1279.2,614.1 1281,616 1282.8,617.9 C1284.7,619.9 1286.5,621.9 1288.3,623.9 C1290.1,626 1291.9,628.1 1293.7,630.2 C1295.5,632.4 1297.4,634.6 1299.2,636.8 C1301,639 1302.8,641.3 1304.6,643.6 C1306.4,645.9 1308.2,648.2 1310.1,650.5 C1311.9,652.9 1313.7,655.2 1315.5,657.6 C1317.3,660 1319.1,662.4 1321,664.8 C1322.8,667.1 1324.6,669.5 1326.4,671.9 C1328.2,674.3 1330,676.7 1331.8,679.1 C1333.7,681.4 1335.5,683.8 1337.3,686.1 C1339.1,688.5 1340.9,690.8 1342.7,693.1 C1344.5,695.4 1346.4,697.7 1348.2,699.9 C1350,702.1 1351.8,704.3 1353.6,706.4 C1355.4,708.6 1357.2,710.7 1359.1,712.7 C1360.9,714.8 1362.7,716.8 1364.5,718.7 C1366.3,720.6 1368.1,722.5 1370,724.3 C1371.8,726.1 1374.5,728.7 1375.4,729.5" fill="none" stroke="#000" stroke-width="2.8" stroke-dasharray="17.2 5.9 5.6 5.9" stroke-dashoffset="23.1"/>
<path d="M1201.5,556.5 C1202.4,557 1205.3,558.6 1207.1,559.7 C1209,560.7 1210.9,561.8 1212.8,562.8 C1214.7,563.9 1216.5,564.9 1218.4,566 C1220.3,567.1 1222.2,568.2 1224,569.3 C1225.9,570.4 1227.8,571.6 1229.7,572.8 C1231.6,574 1233.4,575.2 1235.3,576.5 C1237.2,577.9 1239.1,579.2 1241,580.7 C1242.8,582.1 1244.7,583.6 1246.6,585.2 C1248.5,586.8 1250.3,588.5 1252.2,590.3 C1254.1,592.1 1256,594 1257.9,596 C1259.7,598 1262.6,601.2 1263.5,602.3" fill="none" stroke="#000" stroke-width="2.8" stroke-dasharray="4.6 7.0" stroke-dashoffset="-1"/>
<path d="M1273.9,615.3 C1274.8,616.4 1277.5,619.7 1279.3,621.9 C1281.1,624.2 1282.9,626.5 1284.6,628.8 C1286.4,631.1 1288.2,633.5 1290,635.9 C1291.8,638.2 1293.6,640.7 1295.4,643.1 C1297.2,645.5 1299,647.9 1300.8,650.4 C1302.6,652.8 1304.4,655.3 1306.1,657.7 C1307.9,660.2 1309.7,662.6 1311.5,665.1 C1313.3,667.6 1315.1,670 1316.9,672.5 C1318.7,674.9 1320.5,677.4 1322.3,679.8 C1324.1,682.2 1325.8,684.6 1327.6,687 C1329.4,689.4 1331.2,691.8 1333,694.1 C1334.8,696.5 1336.6,698.8 1338.4,701.1 C1340.2,703.4 1342,705.6 1343.8,707.8 C1345.5,710 1347.3,712.2 1349.1,714.3 C1350.9,716.4 1352.7,718.5 1354.5,720.6 C1356.3,722.6 1358.1,724.6 1359.9,726.5 C1361.7,728.4 1363.5,730.3 1365.3,732 C1367,733.8 1368.8,735.6 1370.6,737.2 C1372.4,738.9 1375.1,741.2 1376,742" fill="none" stroke="#000" stroke-width="2.8" stroke-dasharray="2.8 8.7" stroke-dashoffset="1.4"/>
<g stroke="#000" fill="none" stroke-linecap="round">
<line x1="1140.3" y1="578.9" x2="1148" y2="578.9" stroke-width="2.8"/>
<line x1="1140.3" y1="555.6" x2="1148" y2="555.6" stroke-width="2.8"/>
<line x1="1140.3" y1="539.1" x2="1148" y2="539.1" stroke-width="2.8"/>
<line x1="1140.3" y1="526.3" x2="1156" y2="526.3" stroke-width="2.8"/>
<line x1="1140.3" y1="515.9" x2="1148" y2="515.9" stroke-width="2.8"/>
<line x1="1140.3" y1="507" x2="1148" y2="507" stroke-width="2.8"/>
<line x1="1140.3" y1="499.4" x2="1148" y2="499.4" stroke-width="2.8"/>
<line x1="1140.3" y1="492.6" x2="1148" y2="492.6" stroke-width="2.8"/>
<line x1="1140.3" y1="710.9" x2="1148" y2="710.9" stroke-width="2.8"/>
<line x1="1140.3" y1="687.6" x2="1148" y2="687.6" stroke-width="2.8"/>
<line x1="1140.3" y1="671.1" x2="1148" y2="671.1" stroke-width="2.8"/>
<line x1="1140.3" y1="658.3" x2="1156" y2="658.3" stroke-width="2.8"/>
<line x1="1140.3" y1="647.9" x2="1148" y2="647.9" stroke-width="2.8"/>
<line x1="1140.3" y1="639" x2="1148" y2="639" stroke-width="2.8"/>
<line x1="1140.3" y1="631.4" x2="1148" y2="631.4" stroke-width="2.8"/>
<line x1="1140.3" y1="624.6" x2="1148" y2="624.6" stroke-width="2.8"/>
<line x1="1188.2" y1="763.7" x2="1188.2" y2="755.8" stroke-width="2.8"/>
<line x1="1208.9" y1="763.7" x2="1208.9" y2="755.8" stroke-width="2.8"/>
<line x1="1223.6" y1="763.7" x2="1223.6" y2="755.8" stroke-width="2.8"/>
<line x1="1235" y1="763.7" x2="1235" y2="747.7" stroke-width="2.8"/>
<line x1="1244.3" y1="763.7" x2="1244.3" y2="755.8" stroke-width="2.8"/>
<line x1="1252.1" y1="763.7" x2="1252.1" y2="755.8" stroke-width="2.8"/>
<line x1="1258.9" y1="763.7" x2="1258.9" y2="755.8" stroke-width="2.8"/>
<line x1="1264.9" y1="763.7" x2="1264.9" y2="755.8" stroke-width="2.8"/>
<line x1="1305.6" y1="763.7" x2="1305.6" y2="755.8" stroke-width="2.8"/>
<line x1="1326.3" y1="763.7" x2="1326.3" y2="755.8" stroke-width="2.8"/>
<line x1="1341" y1="763.7" x2="1341" y2="755.8" stroke-width="2.8"/>
<line x1="1352.4" y1="763.7" x2="1352.4" y2="747.7" stroke-width="2.8"/>
<line x1="1361.7" y1="763.7" x2="1361.7" y2="755.8" stroke-width="2.8"/>
<line x1="1369.5" y1="763.7" x2="1369.5" y2="755.8" stroke-width="2.8"/>
<line x1="1376.3" y1="763.7" x2="1376.3" y2="755.8" stroke-width="2.8"/>
<line x1="1382.3" y1="763.7" x2="1382.3" y2="755.8" stroke-width="2.8"/>
</g>
<g stroke="#000" fill="none">
<line x1="1140.3" y1="485.1" x2="1140.3" y2="751.9" stroke-width="3.2"/>
<line x1="1150.7" y1="763.7" x2="1389.2" y2="763.7" stroke-width="3.2"/>
<line x1="1134.4" y1="486.6" x2="1163.8" y2="486.6" stroke-width="3.0" stroke-linecap="round"/>
<line x1="1134.4" y1="618.2" x2="1163.8" y2="618.2" stroke-width="3.0" stroke-linecap="round"/>
<line x1="1134.4" y1="750.4" x2="1163.8" y2="750.4" stroke-width="3.0" stroke-linecap="round"/>
<line x1="1134.4" y1="722.9" x2="1140.3" y2="722.9" stroke-width="3.0" stroke-linecap="round"/>
<line x1="1152.2" y1="740.4" x2="1152.2" y2="769.7" stroke-width="3.0" stroke-linecap="round"/>
<line x1="1270.3" y1="740.4" x2="1270.3" y2="769.7" stroke-width="3.0" stroke-linecap="round"/>
<line x1="1387.7" y1="740.4" x2="1387.7" y2="769.7" stroke-width="3.0" stroke-linecap="round"/>
<line x1="1176.9" y1="763.7" x2="1176.9" y2="769.4" stroke-width="3.0" stroke-linecap="round"/>
<path d="M1140.4,754.6 h9 v9.2 h-9 Z M1142,758 v4.2 h3.3 v-4.2 Z" fill="#000" fill-rule="evenodd" stroke="none"/>
</g>
</g>
<g font-family="'Liberation Serif','Times New Roman',Times,serif" font-weight="bold">
<text x="255.6" y="33.6" font-size="38.9" text-anchor="middle" fill="#1c1c1c">Rat 1</text>
<text transform="translate(138.8,376.9) scale(1,1.035)" font-size="34" text-anchor="middle" fill="#000">0</text>
<text transform="translate(163.5,376.9) scale(1,1.035)" font-size="34" text-anchor="middle" fill="#000">1</text>
<text transform="translate(256.9,376.9) scale(1,1.035)" font-size="34" text-anchor="middle" fill="#000">10</text>
<text transform="translate(374.3,376.9) scale(1,1.035)" font-size="34" text-anchor="middle" fill="#000">100</text>
<text x="593.7" y="33.6" font-size="38.9" text-anchor="middle" fill="#1c1c1c">Rat 2</text>
<text transform="translate(476.6,376.9) scale(1,1.035)" font-size="34" text-anchor="middle" fill="#000">0</text>
<text transform="translate(501.3,376.9) scale(1,1.035)" font-size="34" text-anchor="middle" fill="#000">1</text>
<text transform="translate(594.7,376.9) scale(1,1.035)" font-size="34" text-anchor="middle" fill="#000">10</text>
<text transform="translate(712.1,376.9) scale(1,1.035)" font-size="34" text-anchor="middle" fill="#000">100</text>
<text x="931.8" y="33.6" font-size="38.9" text-anchor="middle" fill="#1c1c1c">Rat 3</text>
<text transform="translate(814.4,376.9) scale(1,1.035)" font-size="34" text-anchor="middle" fill="#000">0</text>
<text transform="translate(839.1,376.9) scale(1,1.035)" font-size="34" text-anchor="middle" fill="#000">1</text>
<text transform="translate(932.5,376.9) scale(1,1.035)" font-size="34" text-anchor="middle" fill="#000">10</text>
<text transform="translate(1049.9,376.9) scale(1,1.035)" font-size="34" text-anchor="middle" fill="#000">100</text>
<text x="1269.9" y="33.6" font-size="38.9" text-anchor="middle" fill="#1c1c1c">Rat 4</text>
<text transform="translate(1152.2,376.9) scale(1,1.035)" font-size="34" text-anchor="middle" fill="#000">0</text>
<text transform="translate(1176.9,376.9) scale(1,1.035)" font-size="34" text-anchor="middle" fill="#000">1</text>
<text transform="translate(1270.3,376.9) scale(1,1.035)" font-size="34" text-anchor="middle" fill="#000">10</text>
<text transform="translate(1387.7,376.9) scale(1,1.035)" font-size="34" text-anchor="middle" fill="#000">100</text>
<text transform="translate(113.6,74.8) scale(1,1.035)" font-size="34" text-anchor="end" fill="#000">100</text>
<text transform="translate(113.6,206.4) scale(1,1.035)" font-size="34" text-anchor="end" fill="#000">10</text>
<text transform="translate(113.6,311.1) scale(1,1.035)" font-size="34" text-anchor="end" fill="#000">1</text>
<text transform="translate(113.6,338.6) scale(1,1.035)" font-size="34" text-anchor="end" fill="#000">0</text>
<text x="255.6" y="457" font-size="38.9" text-anchor="middle" fill="#1c1c1c">Rat 1</text>
<text transform="translate(138.8,800.3) scale(1,1.035)" font-size="34" text-anchor="middle" fill="#000">0</text>
<text transform="translate(163.5,800.3) scale(1,1.035)" font-size="34" text-anchor="middle" fill="#000">1</text>
<text transform="translate(256.9,800.3) scale(1,1.035)" font-size="34" text-anchor="middle" fill="#000">10</text>
<text transform="translate(374.3,800.3) scale(1,1.035)" font-size="34" text-anchor="middle" fill="#000">100</text>
<text x="593.7" y="457" font-size="38.9" text-anchor="middle" fill="#1c1c1c">Rat 2</text>
<text transform="translate(476.6,800.3) scale(1,1.035)" font-size="34" text-anchor="middle" fill="#000">0</text>
<text transform="translate(501.3,800.3) scale(1,1.035)" font-size="34" text-anchor="middle" fill="#000">1</text>
<text transform="translate(594.7,800.3) scale(1,1.035)" font-size="34" text-anchor="middle" fill="#000">10</text>
<text transform="translate(712.1,800.3) scale(1,1.035)" font-size="34" text-anchor="middle" fill="#000">100</text>
<text x="931.8" y="457" font-size="38.9" text-anchor="middle" fill="#1c1c1c">Rat 3</text>
<text transform="translate(814.4,800.3) scale(1,1.035)" font-size="34" text-anchor="middle" fill="#000">0</text>
<text transform="translate(839.1,800.3) scale(1,1.035)" font-size="34" text-anchor="middle" fill="#000">1</text>
<text transform="translate(932.5,800.3) scale(1,1.035)" font-size="34" text-anchor="middle" fill="#000">10</text>
<text transform="translate(1049.9,800.3) scale(1,1.035)" font-size="34" text-anchor="middle" fill="#000">100</text>
<text x="1269.9" y="457" font-size="38.9" text-anchor="middle" fill="#1c1c1c">Rat 4</text>
<text transform="translate(1152.2,800.3) scale(1,1.035)" font-size="34" text-anchor="middle" fill="#000">0</text>
<text transform="translate(1176.9,800.3) scale(1,1.035)" font-size="34" text-anchor="middle" fill="#000">1</text>
<text transform="translate(1270.3,800.3) scale(1,1.035)" font-size="34" text-anchor="middle" fill="#000">10</text>
<text transform="translate(1387.7,800.3) scale(1,1.035)" font-size="34" text-anchor="middle" fill="#000">100</text>
<text transform="translate(113.6,498.2) scale(1,1.035)" font-size="34" text-anchor="end" fill="#000">100</text>
<text transform="translate(113.6,629.8) scale(1,1.035)" font-size="34" text-anchor="end" fill="#000">10</text>
<text transform="translate(113.6,734.5) scale(1,1.035)" font-size="34" text-anchor="end" fill="#000">1</text>
<text transform="translate(113.6,762) scale(1,1.035)" font-size="34" text-anchor="end" fill="#000">0</text>
<rect x="209.3" y="62.1" width="21" height="21" fill="none" stroke="#000" stroke-width="3.7"/>
<line x1="208" y1="72.6" x2="231.5" y2="72.6" stroke="#000" stroke-width="2.7"/>
<circle cx="219.8" cy="104.5" r="12.6" fill="#000"/>
<text x="255.1" y="81.6" font-size="27.8" text-anchor="start" fill="#000">Cagemate</text>
<text x="255.6" y="113.7" font-size="27.8" text-anchor="start" fill="#000">Non-cagemate</text>
<circle cx="270.8" cy="486" r="10.8" fill="#454545" stroke="#000" stroke-width="3.6"/>
<line x1="258.2" y1="486" x2="283.4" y2="486" stroke="#000" stroke-width="2.7"/>
<rect x="261.2" y="508.3" width="19.0" height="19.0" fill="#848484" stroke="#000" stroke-width="3.6" stroke-linejoin="round"/>
<path d="M258.2,517.8 H263.5 M271,517.8 H283.4" stroke="#000" stroke-width="2.7" fill="none"/>
<path d="M270.8,533.3 L285.6,558.4 L256,558.4 Z" fill="#c9c9c9" stroke="#000" stroke-width="3.6" stroke-linejoin="round"/>
<path d="M269.4,549.9 h2.8 M257.2,549.9 h1.6 M282.8,549.9 h1.6" stroke="#000" stroke-width="2.7" fill="none"/>
<text x="306" y="494.9" font-size="27.4" text-anchor="start" fill="#000">10 Sec</text>
<text x="306" y="527.3" font-size="27.4" text-anchor="start" fill="#000">30 Sec</text>
<text x="306" y="559" font-size="27.4" text-anchor="start" fill="#000">60 Sec</text>
<text x="763.4" y="862" font-size="44.8" text-anchor="middle" fill="#000">Social Price (FR)</text>
<text transform="translate(38.3,423.6) rotate(-90)" font-size="44.5" text-anchor="middle" fill="#000">Social Interaction Rate</text>
</g>
</svg>
</body>
</html>
